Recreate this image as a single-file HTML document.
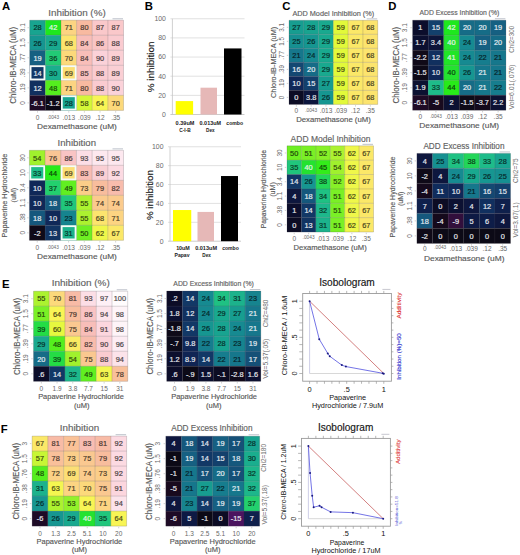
<!DOCTYPE html>
<html><head><meta charset="utf-8"><style>
html,body{margin:0;padding:0;background:#fff;width:520px;height:555px;overflow:hidden}
svg{display:block}
</style></head><body>
<svg width="520" height="555" viewBox="0 0 520 555" font-family='"Liberation Sans", sans-serif'>
<rect width="520" height="555" fill="#fff"/>
<text x="2.00" y="10.20" font-size="11.3" fill="#000" text-anchor="start" font-weight="bold">A</text>
<text x="144.70" y="10.00" font-size="11.3" fill="#000" text-anchor="start" font-weight="bold">B</text>
<text x="282.20" y="10.10" font-size="11.3" fill="#000" text-anchor="start" font-weight="bold">C</text>
<text x="388.30" y="9.80" font-size="11.3" fill="#000" text-anchor="start" font-weight="bold">D</text>
<text x="2.10" y="287.70" font-size="11.3" fill="#000" text-anchor="start" font-weight="bold">E</text>
<text x="0.80" y="433.40" font-size="11.3" fill="#000" text-anchor="start" font-weight="bold">F</text>
<rect x="29.70" y="20.20" width="15.68" height="15.08" fill="#18a490"/>
<rect x="45.33" y="20.20" width="15.68" height="15.08" fill="#1ee81e"/>
<rect x="60.97" y="20.20" width="15.68" height="15.08" fill="#fcd482"/>
<rect x="76.60" y="20.20" width="15.68" height="15.08" fill="#f8baa0"/>
<rect x="92.23" y="20.20" width="15.68" height="15.08" fill="#fac8ca"/>
<rect x="107.87" y="20.20" width="15.68" height="15.08" fill="#fac8ca"/>
<rect x="29.70" y="35.23" width="15.68" height="15.08" fill="#169691"/>
<rect x="45.33" y="35.23" width="15.68" height="15.08" fill="#19a98f"/>
<rect x="60.97" y="35.23" width="15.68" height="15.08" fill="#fce46e"/>
<rect x="76.60" y="35.23" width="15.68" height="15.08" fill="#f8beb9"/>
<rect x="92.23" y="35.23" width="15.68" height="15.08" fill="#f9c4c4"/>
<rect x="107.87" y="35.23" width="15.68" height="15.08" fill="#facbd0"/>
<rect x="29.70" y="50.27" width="15.68" height="15.08" fill="#166082"/>
<rect x="45.33" y="50.27" width="15.68" height="15.08" fill="#22cb75"/>
<rect x="60.97" y="50.27" width="15.68" height="15.08" fill="#fcd97b"/>
<rect x="76.60" y="50.27" width="15.68" height="15.08" fill="#f8beb9"/>
<rect x="92.23" y="50.27" width="15.68" height="15.08" fill="#fbd2d9"/>
<rect x="107.87" y="50.27" width="15.68" height="15.08" fill="#facfd4"/>
<rect x="29.70" y="65.30" width="15.68" height="15.08" fill="#123866"/>
<rect x="45.33" y="65.30" width="15.68" height="15.08" fill="#1aae8e"/>
<rect x="60.97" y="65.30" width="15.68" height="15.08" fill="#fcdf75"/>
<rect x="76.60" y="65.30" width="15.68" height="15.08" fill="#f8c1bf"/>
<rect x="92.23" y="65.30" width="15.68" height="15.08" fill="#facbd0"/>
<rect x="107.87" y="65.30" width="15.68" height="15.08" fill="#facfd4"/>
<rect x="29.70" y="80.33" width="15.68" height="15.08" fill="#11305f"/>
<rect x="45.33" y="80.33" width="15.68" height="15.08" fill="#55ee1e"/>
<rect x="60.97" y="80.33" width="15.68" height="15.08" fill="#fcd482"/>
<rect x="76.60" y="80.33" width="15.68" height="15.08" fill="#f8baa0"/>
<rect x="92.23" y="80.33" width="15.68" height="15.08" fill="#facbd0"/>
<rect x="107.87" y="80.33" width="15.68" height="15.08" fill="#fbd2d9"/>
<rect x="29.70" y="95.37" width="15.68" height="15.08" fill="#1f0b26"/>
<rect x="45.33" y="95.37" width="15.68" height="15.08" fill="#0d0a16"/>
<rect x="60.97" y="95.37" width="15.68" height="15.08" fill="#18a490"/>
<rect x="76.60" y="95.37" width="15.68" height="15.08" fill="#d4f738"/>
<rect x="92.23" y="95.37" width="15.68" height="15.08" fill="#f8f555"/>
<rect x="107.87" y="95.37" width="15.68" height="15.08" fill="#fcd97b"/>
<line x1="29.70" y1="20.20" x2="29.70" y2="110.40" stroke="rgba(60,55,65,0.24)" stroke-width="0.8"/>
<line x1="29.70" y1="20.20" x2="123.50" y2="20.20" stroke="rgba(60,55,65,0.24)" stroke-width="0.8"/>
<line x1="45.33" y1="20.20" x2="45.33" y2="110.40" stroke="rgba(60,55,65,0.24)" stroke-width="0.8"/>
<line x1="29.70" y1="35.23" x2="123.50" y2="35.23" stroke="rgba(60,55,65,0.24)" stroke-width="0.8"/>
<line x1="60.97" y1="20.20" x2="60.97" y2="110.40" stroke="rgba(60,55,65,0.24)" stroke-width="0.8"/>
<line x1="29.70" y1="50.27" x2="123.50" y2="50.27" stroke="rgba(60,55,65,0.24)" stroke-width="0.8"/>
<line x1="76.60" y1="20.20" x2="76.60" y2="110.40" stroke="rgba(60,55,65,0.24)" stroke-width="0.8"/>
<line x1="29.70" y1="65.30" x2="123.50" y2="65.30" stroke="rgba(60,55,65,0.24)" stroke-width="0.8"/>
<line x1="92.23" y1="20.20" x2="92.23" y2="110.40" stroke="rgba(60,55,65,0.24)" stroke-width="0.8"/>
<line x1="29.70" y1="80.33" x2="123.50" y2="80.33" stroke="rgba(60,55,65,0.24)" stroke-width="0.8"/>
<line x1="107.87" y1="20.20" x2="107.87" y2="110.40" stroke="rgba(60,55,65,0.24)" stroke-width="0.8"/>
<line x1="29.70" y1="95.37" x2="123.50" y2="95.37" stroke="rgba(60,55,65,0.24)" stroke-width="0.8"/>
<line x1="123.50" y1="20.20" x2="123.50" y2="110.40" stroke="rgba(60,55,65,0.24)" stroke-width="0.8"/>
<line x1="29.70" y1="110.40" x2="123.50" y2="110.40" stroke="rgba(60,55,65,0.24)" stroke-width="0.8"/>
<rect x="30.60" y="66.20" width="13.83" height="13.23" fill="none" stroke="#f6fbf8" stroke-width="1.8"/>
<rect x="61.87" y="66.20" width="13.83" height="13.23" fill="none" stroke="#f6fbf8" stroke-width="1.8"/>
<rect x="61.87" y="96.27" width="13.83" height="13.23" fill="none" stroke="#f6fbf8" stroke-width="1.8"/>
<text x="37.52" y="30.49" font-size="7.4" fill="#000" stroke="#000" stroke-width="0.2" opacity="0.72" text-anchor="middle">28</text>
<text x="53.15" y="30.49" font-size="7.4" fill="#f4f6fa" stroke="#f4f6fa" stroke-width="0.2" opacity="0.92" text-anchor="middle">42</text>
<text x="68.78" y="30.49" font-size="7.4" fill="#000" stroke="#000" stroke-width="0.2" opacity="0.72" text-anchor="middle">71</text>
<text x="84.42" y="30.49" font-size="7.4" fill="#000" stroke="#000" stroke-width="0.2" opacity="0.72" text-anchor="middle">80</text>
<text x="100.05" y="30.49" font-size="7.4" fill="#000" stroke="#000" stroke-width="0.2" opacity="0.72" text-anchor="middle">87</text>
<text x="115.68" y="30.49" font-size="7.4" fill="#000" stroke="#000" stroke-width="0.2" opacity="0.72" text-anchor="middle">87</text>
<text x="37.52" y="45.52" font-size="7.4" fill="#000" stroke="#000" stroke-width="0.2" opacity="0.72" text-anchor="middle">26</text>
<text x="53.15" y="45.52" font-size="7.4" fill="#000" stroke="#000" stroke-width="0.2" opacity="0.72" text-anchor="middle">29</text>
<text x="68.78" y="45.52" font-size="7.4" fill="#000" stroke="#000" stroke-width="0.2" opacity="0.72" text-anchor="middle">68</text>
<text x="84.42" y="45.52" font-size="7.4" fill="#000" stroke="#000" stroke-width="0.2" opacity="0.72" text-anchor="middle">84</text>
<text x="100.05" y="45.52" font-size="7.4" fill="#000" stroke="#000" stroke-width="0.2" opacity="0.72" text-anchor="middle">86</text>
<text x="115.68" y="45.52" font-size="7.4" fill="#000" stroke="#000" stroke-width="0.2" opacity="0.72" text-anchor="middle">88</text>
<text x="37.52" y="60.56" font-size="7.4" fill="#f4f6fa" stroke="#f4f6fa" stroke-width="0.2" opacity="0.92" text-anchor="middle">19</text>
<text x="53.15" y="60.56" font-size="7.4" fill="#000" stroke="#000" stroke-width="0.2" opacity="0.72" text-anchor="middle">36</text>
<text x="68.78" y="60.56" font-size="7.4" fill="#000" stroke="#000" stroke-width="0.2" opacity="0.72" text-anchor="middle">70</text>
<text x="84.42" y="60.56" font-size="7.4" fill="#000" stroke="#000" stroke-width="0.2" opacity="0.72" text-anchor="middle">84</text>
<text x="100.05" y="60.56" font-size="7.4" fill="#000" stroke="#000" stroke-width="0.2" opacity="0.72" text-anchor="middle">90</text>
<text x="115.68" y="60.56" font-size="7.4" fill="#000" stroke="#000" stroke-width="0.2" opacity="0.72" text-anchor="middle">89</text>
<text x="37.52" y="75.59" font-size="7.4" fill="#f4f6fa" stroke="#f4f6fa" stroke-width="0.2" opacity="0.92" text-anchor="middle">14</text>
<text x="53.15" y="75.59" font-size="7.4" fill="#000" stroke="#000" stroke-width="0.2" opacity="0.72" text-anchor="middle">30</text>
<text x="68.78" y="75.59" font-size="7.4" fill="#000" stroke="#000" stroke-width="0.2" opacity="0.72" text-anchor="middle">69</text>
<text x="84.42" y="75.59" font-size="7.4" fill="#000" stroke="#000" stroke-width="0.2" opacity="0.72" text-anchor="middle">85</text>
<text x="100.05" y="75.59" font-size="7.4" fill="#000" stroke="#000" stroke-width="0.2" opacity="0.72" text-anchor="middle">88</text>
<text x="115.68" y="75.59" font-size="7.4" fill="#000" stroke="#000" stroke-width="0.2" opacity="0.72" text-anchor="middle">89</text>
<text x="37.52" y="90.63" font-size="7.4" fill="#f4f6fa" stroke="#f4f6fa" stroke-width="0.2" opacity="0.92" text-anchor="middle">12</text>
<text x="53.15" y="90.63" font-size="7.4" fill="#000" stroke="#000" stroke-width="0.2" opacity="0.72" text-anchor="middle">48</text>
<text x="68.78" y="90.63" font-size="7.4" fill="#000" stroke="#000" stroke-width="0.2" opacity="0.72" text-anchor="middle">71</text>
<text x="84.42" y="90.63" font-size="7.4" fill="#000" stroke="#000" stroke-width="0.2" opacity="0.72" text-anchor="middle">80</text>
<text x="100.05" y="90.63" font-size="7.4" fill="#000" stroke="#000" stroke-width="0.2" opacity="0.72" text-anchor="middle">88</text>
<text x="115.68" y="90.63" font-size="7.4" fill="#000" stroke="#000" stroke-width="0.2" opacity="0.72" text-anchor="middle">90</text>
<text x="37.52" y="105.66" font-size="7.4" fill="#f4f6fa" stroke="#f4f6fa" stroke-width="0.2" opacity="0.92" text-anchor="middle">-6.1</text>
<text x="53.15" y="105.66" font-size="7.4" fill="#f4f6fa" stroke="#f4f6fa" stroke-width="0.2" opacity="0.92" text-anchor="middle">-1.2</text>
<text x="68.78" y="105.66" font-size="7.4" fill="#000" stroke="#000" stroke-width="0.2" opacity="0.72" text-anchor="middle">28</text>
<text x="84.42" y="105.66" font-size="7.4" fill="#000" stroke="#000" stroke-width="0.2" opacity="0.72" text-anchor="middle">58</text>
<text x="100.05" y="105.66" font-size="7.4" fill="#000" stroke="#000" stroke-width="0.2" opacity="0.72" text-anchor="middle">64</text>
<text x="115.68" y="105.66" font-size="7.4" fill="#000" stroke="#000" stroke-width="0.2" opacity="0.72" text-anchor="middle">70</text>
<rect x="112.50" y="18.20" width="10.5" height="1.1" fill="#c4c8d0"/>
<text x="76.95" y="15.80" font-size="9.72" fill="#626262" text-anchor="middle" font-weight="normal" textLength="57.50" lengthAdjust="spacingAndGlyphs" stroke="#626262" stroke-width="0.15">Inhibition (%)</text>
<text x="16.20" y="65.30" font-size="8.48" fill="#585858" text-anchor="middle" font-weight="normal" transform="rotate(-90 16.20 65.30)" textLength="77.00" lengthAdjust="spacingAndGlyphs" stroke="#585858" stroke-width="0.15">Chloro-IB-MECA (uM)</text>
<text x="24.70" y="27.72" font-size="6.5" fill="#686868" text-anchor="middle" font-weight="normal" transform="rotate(-90 24.70 27.72)">3.1</text>
<line x1="27.50" y1="27.72" x2="28.90" y2="27.72" stroke="#b0b0b0" stroke-width="0.6"/>
<text x="24.70" y="42.75" font-size="6.5" fill="#686868" text-anchor="middle" font-weight="normal" transform="rotate(-90 24.70 42.75)">1.5</text>
<line x1="27.50" y1="42.75" x2="28.90" y2="42.75" stroke="#b0b0b0" stroke-width="0.6"/>
<text x="24.70" y="57.78" font-size="6.5" fill="#686868" text-anchor="middle" font-weight="normal" transform="rotate(-90 24.70 57.78)">.77</text>
<line x1="27.50" y1="57.78" x2="28.90" y2="57.78" stroke="#b0b0b0" stroke-width="0.6"/>
<text x="24.70" y="72.82" font-size="6.5" fill="#686868" text-anchor="middle" font-weight="normal" transform="rotate(-90 24.70 72.82)">.39</text>
<line x1="27.50" y1="72.82" x2="28.90" y2="72.82" stroke="#b0b0b0" stroke-width="0.6"/>
<text x="24.70" y="87.85" font-size="6.5" fill="#686868" text-anchor="middle" font-weight="normal" transform="rotate(-90 24.70 87.85)">.19</text>
<line x1="27.50" y1="87.85" x2="28.90" y2="87.85" stroke="#b0b0b0" stroke-width="0.6"/>
<text x="24.70" y="102.88" font-size="6.5" fill="#686868" text-anchor="middle" font-weight="normal" transform="rotate(-90 24.70 102.88)">0</text>
<line x1="27.50" y1="102.88" x2="28.90" y2="102.88" stroke="#b0b0b0" stroke-width="0.6"/>
<text x="37.52" y="119.70" font-size="6.5" fill="#686868" text-anchor="middle" font-weight="normal">0</text>
<line x1="37.52" y1="111.20" x2="37.52" y2="112.60" stroke="#b0b0b0" stroke-width="0.6"/>
<text x="53.15" y="118.50" font-size="4.81" fill="#686868" text-anchor="middle" font-weight="normal">.0043</text>
<line x1="53.15" y1="111.20" x2="53.15" y2="112.60" stroke="#b0b0b0" stroke-width="0.6"/>
<text x="68.78" y="119.70" font-size="6.5" fill="#686868" text-anchor="middle" font-weight="normal">.013</text>
<line x1="68.78" y1="111.20" x2="68.78" y2="112.60" stroke="#b0b0b0" stroke-width="0.6"/>
<text x="84.42" y="119.70" font-size="6.5" fill="#686868" text-anchor="middle" font-weight="normal">.039</text>
<line x1="84.42" y1="111.20" x2="84.42" y2="112.60" stroke="#b0b0b0" stroke-width="0.6"/>
<text x="100.05" y="119.70" font-size="6.5" fill="#686868" text-anchor="middle" font-weight="normal">.12</text>
<line x1="100.05" y1="111.20" x2="100.05" y2="112.60" stroke="#b0b0b0" stroke-width="0.6"/>
<text x="115.68" y="119.70" font-size="6.5" fill="#686868" text-anchor="middle" font-weight="normal">.35</text>
<line x1="115.68" y1="111.20" x2="115.68" y2="112.60" stroke="#b0b0b0" stroke-width="0.6"/>
<text x="77.00" y="128.80" font-size="7.844000000000001" fill="#585858" text-anchor="middle" font-weight="normal" textLength="79.80" lengthAdjust="spacingAndGlyphs" stroke="#585858" stroke-width="0.15">Dexamethasone (uM)</text>
<rect x="29.40" y="150.30" width="15.73" height="15.05" fill="#a0f12d"/>
<rect x="45.08" y="150.30" width="15.73" height="15.05" fill="#fac594"/>
<rect x="60.77" y="150.30" width="15.73" height="15.05" fill="#f9c4c4"/>
<rect x="76.45" y="150.30" width="15.73" height="15.05" fill="#fcdee6"/>
<rect x="92.13" y="150.30" width="15.73" height="15.05" fill="#fde8ef"/>
<rect x="107.82" y="150.30" width="15.73" height="15.05" fill="#fde8ef"/>
<rect x="29.40" y="165.30" width="15.73" height="15.05" fill="#1ebc8a"/>
<rect x="45.08" y="165.30" width="15.73" height="15.05" fill="#28eb19"/>
<rect x="60.77" y="165.30" width="15.73" height="15.05" fill="#fcdf75"/>
<rect x="76.45" y="165.30" width="15.73" height="15.05" fill="#f8bdb3"/>
<rect x="92.13" y="165.30" width="15.73" height="15.05" fill="#facfd4"/>
<rect x="107.82" y="165.30" width="15.73" height="15.05" fill="#fcdae2"/>
<rect x="29.40" y="180.30" width="15.73" height="15.05" fill="#102858"/>
<rect x="45.08" y="180.30" width="15.73" height="15.05" fill="#23d06e"/>
<rect x="60.77" y="180.30" width="15.73" height="15.05" fill="#61ef21"/>
<rect x="76.45" y="180.30" width="15.73" height="15.05" fill="#fbce89"/>
<rect x="92.13" y="180.30" width="15.73" height="15.05" fill="#f8bd9d"/>
<rect x="107.82" y="180.30" width="15.73" height="15.05" fill="#f8bcac"/>
<rect x="29.40" y="195.30" width="15.73" height="15.05" fill="#102858"/>
<rect x="45.08" y="195.30" width="15.73" height="15.05" fill="#15587d"/>
<rect x="60.77" y="195.30" width="15.73" height="15.05" fill="#20c67c"/>
<rect x="76.45" y="195.30" width="15.73" height="15.05" fill="#acf230"/>
<rect x="92.13" y="195.30" width="15.73" height="15.05" fill="#fbcb8d"/>
<rect x="107.82" y="195.30" width="15.73" height="15.05" fill="#fbcb8d"/>
<rect x="29.40" y="210.30" width="15.73" height="15.05" fill="#15587d"/>
<rect x="45.08" y="210.30" width="15.73" height="15.05" fill="#102858"/>
<rect x="60.77" y="210.30" width="15.73" height="15.05" fill="#16848f"/>
<rect x="76.45" y="210.30" width="15.73" height="15.05" fill="#acf230"/>
<rect x="92.13" y="210.30" width="15.73" height="15.05" fill="#fce46e"/>
<rect x="107.82" y="210.30" width="15.73" height="15.05" fill="#fcd482"/>
<rect x="29.40" y="225.30" width="15.73" height="15.05" fill="#0f0a18"/>
<rect x="45.08" y="225.30" width="15.73" height="15.05" fill="#123462"/>
<rect x="60.77" y="225.30" width="15.73" height="15.05" fill="#1cb28c"/>
<rect x="76.45" y="225.30" width="15.73" height="15.05" fill="#6eef23"/>
<rect x="92.13" y="225.30" width="15.73" height="15.05" fill="#eff74a"/>
<rect x="107.82" y="225.30" width="15.73" height="15.05" fill="#fbe868"/>
<line x1="29.40" y1="150.30" x2="29.40" y2="240.30" stroke="rgba(60,55,65,0.24)" stroke-width="0.8"/>
<line x1="29.40" y1="150.30" x2="123.50" y2="150.30" stroke="rgba(60,55,65,0.24)" stroke-width="0.8"/>
<line x1="45.08" y1="150.30" x2="45.08" y2="240.30" stroke="rgba(60,55,65,0.24)" stroke-width="0.8"/>
<line x1="29.40" y1="165.30" x2="123.50" y2="165.30" stroke="rgba(60,55,65,0.24)" stroke-width="0.8"/>
<line x1="60.77" y1="150.30" x2="60.77" y2="240.30" stroke="rgba(60,55,65,0.24)" stroke-width="0.8"/>
<line x1="29.40" y1="180.30" x2="123.50" y2="180.30" stroke="rgba(60,55,65,0.24)" stroke-width="0.8"/>
<line x1="76.45" y1="150.30" x2="76.45" y2="240.30" stroke="rgba(60,55,65,0.24)" stroke-width="0.8"/>
<line x1="29.40" y1="195.30" x2="123.50" y2="195.30" stroke="rgba(60,55,65,0.24)" stroke-width="0.8"/>
<line x1="92.13" y1="150.30" x2="92.13" y2="240.30" stroke="rgba(60,55,65,0.24)" stroke-width="0.8"/>
<line x1="29.40" y1="210.30" x2="123.50" y2="210.30" stroke="rgba(60,55,65,0.24)" stroke-width="0.8"/>
<line x1="107.82" y1="150.30" x2="107.82" y2="240.30" stroke="rgba(60,55,65,0.24)" stroke-width="0.8"/>
<line x1="29.40" y1="225.30" x2="123.50" y2="225.30" stroke="rgba(60,55,65,0.24)" stroke-width="0.8"/>
<line x1="123.50" y1="150.30" x2="123.50" y2="240.30" stroke="rgba(60,55,65,0.24)" stroke-width="0.8"/>
<line x1="29.40" y1="240.30" x2="123.50" y2="240.30" stroke="rgba(60,55,65,0.24)" stroke-width="0.8"/>
<rect x="30.30" y="166.20" width="13.88" height="13.20" fill="none" stroke="#f6fbf8" stroke-width="1.8"/>
<rect x="61.67" y="166.20" width="13.88" height="13.20" fill="none" stroke="#f6fbf8" stroke-width="1.8"/>
<rect x="61.67" y="226.20" width="13.88" height="13.20" fill="none" stroke="#f6fbf8" stroke-width="1.8"/>
<text x="37.24" y="160.58" font-size="7.4" fill="#000" stroke="#000" stroke-width="0.2" opacity="0.72" text-anchor="middle">54</text>
<text x="52.92" y="160.58" font-size="7.4" fill="#000" stroke="#000" stroke-width="0.2" opacity="0.72" text-anchor="middle">76</text>
<text x="68.61" y="160.58" font-size="7.4" fill="#000" stroke="#000" stroke-width="0.2" opacity="0.72" text-anchor="middle">86</text>
<text x="84.29" y="160.58" font-size="7.4" fill="#000" stroke="#000" stroke-width="0.2" opacity="0.72" text-anchor="middle">93</text>
<text x="99.97" y="160.58" font-size="7.4" fill="#000" stroke="#000" stroke-width="0.2" opacity="0.72" text-anchor="middle">95</text>
<text x="115.66" y="160.58" font-size="7.4" fill="#000" stroke="#000" stroke-width="0.2" opacity="0.72" text-anchor="middle">95</text>
<text x="37.24" y="175.58" font-size="7.4" fill="#000" stroke="#000" stroke-width="0.2" opacity="0.72" text-anchor="middle">33</text>
<text x="52.92" y="175.58" font-size="7.4" fill="#000" stroke="#000" stroke-width="0.2" opacity="0.72" text-anchor="middle">44</text>
<text x="68.61" y="175.58" font-size="7.4" fill="#000" stroke="#000" stroke-width="0.2" opacity="0.72" text-anchor="middle">69</text>
<text x="84.29" y="175.58" font-size="7.4" fill="#000" stroke="#000" stroke-width="0.2" opacity="0.72" text-anchor="middle">83</text>
<text x="99.97" y="175.58" font-size="7.4" fill="#000" stroke="#000" stroke-width="0.2" opacity="0.72" text-anchor="middle">89</text>
<text x="115.66" y="175.58" font-size="7.4" fill="#000" stroke="#000" stroke-width="0.2" opacity="0.72" text-anchor="middle">92</text>
<text x="37.24" y="190.58" font-size="7.4" fill="#f4f6fa" stroke="#f4f6fa" stroke-width="0.2" opacity="0.92" text-anchor="middle">10</text>
<text x="52.92" y="190.58" font-size="7.4" fill="#000" stroke="#000" stroke-width="0.2" opacity="0.72" text-anchor="middle">37</text>
<text x="68.61" y="190.58" font-size="7.4" fill="#000" stroke="#000" stroke-width="0.2" opacity="0.72" text-anchor="middle">49</text>
<text x="84.29" y="190.58" font-size="7.4" fill="#000" stroke="#000" stroke-width="0.2" opacity="0.72" text-anchor="middle">73</text>
<text x="99.97" y="190.58" font-size="7.4" fill="#000" stroke="#000" stroke-width="0.2" opacity="0.72" text-anchor="middle">79</text>
<text x="115.66" y="190.58" font-size="7.4" fill="#000" stroke="#000" stroke-width="0.2" opacity="0.72" text-anchor="middle">82</text>
<text x="37.24" y="205.58" font-size="7.4" fill="#f4f6fa" stroke="#f4f6fa" stroke-width="0.2" opacity="0.92" text-anchor="middle">10</text>
<text x="52.92" y="205.58" font-size="7.4" fill="#f4f6fa" stroke="#f4f6fa" stroke-width="0.2" opacity="0.92" text-anchor="middle">18</text>
<text x="68.61" y="205.58" font-size="7.4" fill="#000" stroke="#000" stroke-width="0.2" opacity="0.72" text-anchor="middle">35</text>
<text x="84.29" y="205.58" font-size="7.4" fill="#000" stroke="#000" stroke-width="0.2" opacity="0.72" text-anchor="middle">55</text>
<text x="99.97" y="205.58" font-size="7.4" fill="#000" stroke="#000" stroke-width="0.2" opacity="0.72" text-anchor="middle">74</text>
<text x="115.66" y="205.58" font-size="7.4" fill="#000" stroke="#000" stroke-width="0.2" opacity="0.72" text-anchor="middle">74</text>
<text x="37.24" y="220.58" font-size="7.4" fill="#f4f6fa" stroke="#f4f6fa" stroke-width="0.2" opacity="0.92" text-anchor="middle">18</text>
<text x="52.92" y="220.58" font-size="7.4" fill="#f4f6fa" stroke="#f4f6fa" stroke-width="0.2" opacity="0.92" text-anchor="middle">10</text>
<text x="68.61" y="220.58" font-size="7.4" fill="#000" stroke="#000" stroke-width="0.2" opacity="0.72" text-anchor="middle">23</text>
<text x="84.29" y="220.58" font-size="7.4" fill="#000" stroke="#000" stroke-width="0.2" opacity="0.72" text-anchor="middle">55</text>
<text x="99.97" y="220.58" font-size="7.4" fill="#000" stroke="#000" stroke-width="0.2" opacity="0.72" text-anchor="middle">68</text>
<text x="115.66" y="220.58" font-size="7.4" fill="#000" stroke="#000" stroke-width="0.2" opacity="0.72" text-anchor="middle">71</text>
<text x="37.24" y="235.58" font-size="7.4" fill="#f4f6fa" stroke="#f4f6fa" stroke-width="0.2" opacity="0.92" text-anchor="middle">-2</text>
<text x="52.92" y="235.58" font-size="7.4" fill="#f4f6fa" stroke="#f4f6fa" stroke-width="0.2" opacity="0.92" text-anchor="middle">13</text>
<text x="68.61" y="235.58" font-size="7.4" fill="#000" stroke="#000" stroke-width="0.2" opacity="0.72" text-anchor="middle">31</text>
<text x="84.29" y="235.58" font-size="7.4" fill="#000" stroke="#000" stroke-width="0.2" opacity="0.72" text-anchor="middle">50</text>
<text x="99.97" y="235.58" font-size="7.4" fill="#000" stroke="#000" stroke-width="0.2" opacity="0.72" text-anchor="middle">62</text>
<text x="115.66" y="235.58" font-size="7.4" fill="#000" stroke="#000" stroke-width="0.2" opacity="0.72" text-anchor="middle">67</text>
<rect x="112.50" y="148.30" width="10.5" height="1.1" fill="#c4c8d0"/>
<text x="76.80" y="145.60" font-size="9.288" fill="#626262" text-anchor="middle" font-weight="normal" textLength="38.40" lengthAdjust="spacingAndGlyphs" stroke="#626262" stroke-width="0.15">Inhibition</text>
<text x="6.80" y="195.60" font-size="7.844000000000001" fill="#585858" text-anchor="middle" font-weight="normal" transform="rotate(-90 6.80 195.60)" textLength="83.80" lengthAdjust="spacingAndGlyphs" stroke="#585858" stroke-width="0.15">Papaverine Hydrochloride</text>
<text x="16.00" y="195.10" font-size="7.844000000000001" fill="#585858" text-anchor="middle" font-weight="normal" transform="rotate(-90 16.00 195.10)" textLength="14.60" lengthAdjust="spacingAndGlyphs" stroke="#585858" stroke-width="0.15">(uM)</text>
<text x="24.60" y="157.80" font-size="6.5" fill="#686868" text-anchor="middle" font-weight="normal" transform="rotate(-90 24.60 157.80)">30</text>
<line x1="27.20" y1="157.80" x2="28.60" y2="157.80" stroke="#b0b0b0" stroke-width="0.6"/>
<text x="24.60" y="172.80" font-size="6.5" fill="#686868" text-anchor="middle" font-weight="normal" transform="rotate(-90 24.60 172.80)">10</text>
<line x1="27.20" y1="172.80" x2="28.60" y2="172.80" stroke="#b0b0b0" stroke-width="0.6"/>
<text x="24.60" y="187.80" font-size="6.5" fill="#686868" text-anchor="middle" font-weight="normal" transform="rotate(-90 24.60 187.80)">3.4</text>
<line x1="27.20" y1="187.80" x2="28.60" y2="187.80" stroke="#b0b0b0" stroke-width="0.6"/>
<text x="24.60" y="202.80" font-size="6.5" fill="#686868" text-anchor="middle" font-weight="normal" transform="rotate(-90 24.60 202.80)">1.1</text>
<line x1="27.20" y1="202.80" x2="28.60" y2="202.80" stroke="#b0b0b0" stroke-width="0.6"/>
<text x="24.60" y="217.80" font-size="6.5" fill="#686868" text-anchor="middle" font-weight="normal" transform="rotate(-90 24.60 217.80)">.38</text>
<line x1="27.20" y1="217.80" x2="28.60" y2="217.80" stroke="#b0b0b0" stroke-width="0.6"/>
<text x="24.60" y="232.80" font-size="6.5" fill="#686868" text-anchor="middle" font-weight="normal" transform="rotate(-90 24.60 232.80)">0</text>
<line x1="27.20" y1="232.80" x2="28.60" y2="232.80" stroke="#b0b0b0" stroke-width="0.6"/>
<text x="37.24" y="249.70" font-size="6.5" fill="#686868" text-anchor="middle" font-weight="normal">0</text>
<line x1="37.24" y1="241.10" x2="37.24" y2="242.50" stroke="#b0b0b0" stroke-width="0.6"/>
<text x="52.92" y="248.50" font-size="4.81" fill="#686868" text-anchor="middle" font-weight="normal">.0043</text>
<line x1="52.92" y1="241.10" x2="52.92" y2="242.50" stroke="#b0b0b0" stroke-width="0.6"/>
<text x="68.61" y="249.70" font-size="6.5" fill="#686868" text-anchor="middle" font-weight="normal">.013</text>
<line x1="68.61" y1="241.10" x2="68.61" y2="242.50" stroke="#b0b0b0" stroke-width="0.6"/>
<text x="84.29" y="249.70" font-size="6.5" fill="#686868" text-anchor="middle" font-weight="normal">.039</text>
<line x1="84.29" y1="241.10" x2="84.29" y2="242.50" stroke="#b0b0b0" stroke-width="0.6"/>
<text x="99.97" y="249.70" font-size="6.5" fill="#686868" text-anchor="middle" font-weight="normal">.12</text>
<line x1="99.97" y1="241.10" x2="99.97" y2="242.50" stroke="#b0b0b0" stroke-width="0.6"/>
<text x="115.66" y="249.70" font-size="6.5" fill="#686868" text-anchor="middle" font-weight="normal">.35</text>
<line x1="115.66" y1="241.10" x2="115.66" y2="242.50" stroke="#b0b0b0" stroke-width="0.6"/>
<text x="77.00" y="258.80" font-size="7.844000000000001" fill="#585858" text-anchor="middle" font-weight="normal" textLength="79.80" lengthAdjust="spacingAndGlyphs" stroke="#585858" stroke-width="0.15">Dexamethasone (uM)</text>
<rect x="289.00" y="20.30" width="14.83" height="14.07" fill="#179d90"/>
<rect x="303.78" y="20.30" width="14.83" height="14.07" fill="#18a490"/>
<rect x="318.57" y="20.30" width="14.83" height="14.07" fill="#19a98f"/>
<rect x="333.35" y="20.30" width="14.83" height="14.07" fill="#e2f93a"/>
<rect x="348.13" y="20.30" width="14.83" height="14.07" fill="#fbe868"/>
<rect x="362.92" y="20.30" width="14.83" height="14.07" fill="#fce46e"/>
<rect x="289.00" y="34.32" width="14.83" height="14.07" fill="#169091"/>
<rect x="303.78" y="34.32" width="14.83" height="14.07" fill="#169691"/>
<rect x="318.57" y="34.32" width="14.83" height="14.07" fill="#19a98f"/>
<rect x="333.35" y="34.32" width="14.83" height="14.07" fill="#e2f93a"/>
<rect x="348.13" y="34.32" width="14.83" height="14.07" fill="#fbe868"/>
<rect x="362.92" y="34.32" width="14.83" height="14.07" fill="#fce46e"/>
<rect x="289.00" y="48.33" width="14.83" height="14.07" fill="#16778c"/>
<rect x="303.78" y="48.33" width="14.83" height="14.07" fill="#168a91"/>
<rect x="318.57" y="48.33" width="14.83" height="14.07" fill="#19a98f"/>
<rect x="333.35" y="48.33" width="14.83" height="14.07" fill="#e2f93a"/>
<rect x="348.13" y="48.33" width="14.83" height="14.07" fill="#fbe868"/>
<rect x="362.92" y="48.33" width="14.83" height="14.07" fill="#fce46e"/>
<rect x="289.00" y="62.35" width="14.83" height="14.07" fill="#144872"/>
<rect x="303.78" y="62.35" width="14.83" height="14.07" fill="#166c87"/>
<rect x="318.57" y="62.35" width="14.83" height="14.07" fill="#19a98f"/>
<rect x="333.35" y="62.35" width="14.83" height="14.07" fill="#e2f93a"/>
<rect x="348.13" y="62.35" width="14.83" height="14.07" fill="#fbe868"/>
<rect x="362.92" y="62.35" width="14.83" height="14.07" fill="#fce46e"/>
<rect x="289.00" y="76.37" width="14.83" height="14.07" fill="#102858"/>
<rect x="303.78" y="76.37" width="14.83" height="14.07" fill="#13406c"/>
<rect x="318.57" y="76.37" width="14.83" height="14.07" fill="#179d90"/>
<rect x="333.35" y="76.37" width="14.83" height="14.07" fill="#e2f93a"/>
<rect x="348.13" y="76.37" width="14.83" height="14.07" fill="#fbe868"/>
<rect x="362.92" y="76.37" width="14.83" height="14.07" fill="#fce46e"/>
<rect x="289.00" y="90.38" width="14.83" height="14.07" fill="#0c0c24"/>
<rect x="303.78" y="90.38" width="14.83" height="14.07" fill="#0d163d"/>
<rect x="318.57" y="90.38" width="14.83" height="14.07" fill="#169691"/>
<rect x="333.35" y="90.38" width="14.83" height="14.07" fill="#e2f93a"/>
<rect x="348.13" y="90.38" width="14.83" height="14.07" fill="#fbe868"/>
<rect x="362.92" y="90.38" width="14.83" height="14.07" fill="#fce46e"/>
<line x1="289.00" y1="20.30" x2="289.00" y2="104.40" stroke="rgba(60,55,65,0.24)" stroke-width="0.8"/>
<line x1="289.00" y1="20.30" x2="377.70" y2="20.30" stroke="rgba(60,55,65,0.24)" stroke-width="0.8"/>
<line x1="303.78" y1="20.30" x2="303.78" y2="104.40" stroke="rgba(60,55,65,0.24)" stroke-width="0.8"/>
<line x1="289.00" y1="34.32" x2="377.70" y2="34.32" stroke="rgba(60,55,65,0.24)" stroke-width="0.8"/>
<line x1="318.57" y1="20.30" x2="318.57" y2="104.40" stroke="rgba(60,55,65,0.24)" stroke-width="0.8"/>
<line x1="289.00" y1="48.33" x2="377.70" y2="48.33" stroke="rgba(60,55,65,0.24)" stroke-width="0.8"/>
<line x1="333.35" y1="20.30" x2="333.35" y2="104.40" stroke="rgba(60,55,65,0.24)" stroke-width="0.8"/>
<line x1="289.00" y1="62.35" x2="377.70" y2="62.35" stroke="rgba(60,55,65,0.24)" stroke-width="0.8"/>
<line x1="348.13" y1="20.30" x2="348.13" y2="104.40" stroke="rgba(60,55,65,0.24)" stroke-width="0.8"/>
<line x1="289.00" y1="76.37" x2="377.70" y2="76.37" stroke="rgba(60,55,65,0.24)" stroke-width="0.8"/>
<line x1="362.92" y1="20.30" x2="362.92" y2="104.40" stroke="rgba(60,55,65,0.24)" stroke-width="0.8"/>
<line x1="289.00" y1="90.38" x2="377.70" y2="90.38" stroke="rgba(60,55,65,0.24)" stroke-width="0.8"/>
<line x1="377.70" y1="20.30" x2="377.70" y2="104.40" stroke="rgba(60,55,65,0.24)" stroke-width="0.8"/>
<line x1="289.00" y1="104.40" x2="377.70" y2="104.40" stroke="rgba(60,55,65,0.24)" stroke-width="0.8"/>
<text x="296.39" y="30.08" font-size="7.4" fill="#000" stroke="#000" stroke-width="0.2" opacity="0.72" text-anchor="middle">27</text>
<text x="311.18" y="30.08" font-size="7.4" fill="#000" stroke="#000" stroke-width="0.2" opacity="0.72" text-anchor="middle">28</text>
<text x="325.96" y="30.08" font-size="7.4" fill="#000" stroke="#000" stroke-width="0.2" opacity="0.72" text-anchor="middle">29</text>
<text x="340.74" y="30.08" font-size="7.4" fill="#000" stroke="#000" stroke-width="0.2" opacity="0.72" text-anchor="middle">59</text>
<text x="355.52" y="30.08" font-size="7.4" fill="#000" stroke="#000" stroke-width="0.2" opacity="0.72" text-anchor="middle">67</text>
<text x="370.31" y="30.08" font-size="7.4" fill="#000" stroke="#000" stroke-width="0.2" opacity="0.72" text-anchor="middle">68</text>
<text x="296.39" y="44.10" font-size="7.4" fill="#000" stroke="#000" stroke-width="0.2" opacity="0.72" text-anchor="middle">25</text>
<text x="311.18" y="44.10" font-size="7.4" fill="#000" stroke="#000" stroke-width="0.2" opacity="0.72" text-anchor="middle">26</text>
<text x="325.96" y="44.10" font-size="7.4" fill="#000" stroke="#000" stroke-width="0.2" opacity="0.72" text-anchor="middle">29</text>
<text x="340.74" y="44.10" font-size="7.4" fill="#000" stroke="#000" stroke-width="0.2" opacity="0.72" text-anchor="middle">59</text>
<text x="355.52" y="44.10" font-size="7.4" fill="#000" stroke="#000" stroke-width="0.2" opacity="0.72" text-anchor="middle">67</text>
<text x="370.31" y="44.10" font-size="7.4" fill="#000" stroke="#000" stroke-width="0.2" opacity="0.72" text-anchor="middle">68</text>
<text x="296.39" y="58.12" font-size="7.4" fill="#000" stroke="#000" stroke-width="0.2" opacity="0.72" text-anchor="middle">21</text>
<text x="311.18" y="58.12" font-size="7.4" fill="#000" stroke="#000" stroke-width="0.2" opacity="0.72" text-anchor="middle">24</text>
<text x="325.96" y="58.12" font-size="7.4" fill="#000" stroke="#000" stroke-width="0.2" opacity="0.72" text-anchor="middle">29</text>
<text x="340.74" y="58.12" font-size="7.4" fill="#000" stroke="#000" stroke-width="0.2" opacity="0.72" text-anchor="middle">59</text>
<text x="355.52" y="58.12" font-size="7.4" fill="#000" stroke="#000" stroke-width="0.2" opacity="0.72" text-anchor="middle">67</text>
<text x="370.31" y="58.12" font-size="7.4" fill="#000" stroke="#000" stroke-width="0.2" opacity="0.72" text-anchor="middle">68</text>
<text x="296.39" y="72.13" font-size="7.4" fill="#f4f6fa" stroke="#f4f6fa" stroke-width="0.2" opacity="0.92" text-anchor="middle">16</text>
<text x="311.18" y="72.13" font-size="7.4" fill="#f4f6fa" stroke="#f4f6fa" stroke-width="0.2" opacity="0.92" text-anchor="middle">20</text>
<text x="325.96" y="72.13" font-size="7.4" fill="#000" stroke="#000" stroke-width="0.2" opacity="0.72" text-anchor="middle">29</text>
<text x="340.74" y="72.13" font-size="7.4" fill="#000" stroke="#000" stroke-width="0.2" opacity="0.72" text-anchor="middle">59</text>
<text x="355.52" y="72.13" font-size="7.4" fill="#000" stroke="#000" stroke-width="0.2" opacity="0.72" text-anchor="middle">67</text>
<text x="370.31" y="72.13" font-size="7.4" fill="#000" stroke="#000" stroke-width="0.2" opacity="0.72" text-anchor="middle">68</text>
<text x="296.39" y="86.15" font-size="7.4" fill="#f4f6fa" stroke="#f4f6fa" stroke-width="0.2" opacity="0.92" text-anchor="middle">10</text>
<text x="311.18" y="86.15" font-size="7.4" fill="#f4f6fa" stroke="#f4f6fa" stroke-width="0.2" opacity="0.92" text-anchor="middle">15</text>
<text x="325.96" y="86.15" font-size="7.4" fill="#000" stroke="#000" stroke-width="0.2" opacity="0.72" text-anchor="middle">27</text>
<text x="340.74" y="86.15" font-size="7.4" fill="#000" stroke="#000" stroke-width="0.2" opacity="0.72" text-anchor="middle">59</text>
<text x="355.52" y="86.15" font-size="7.4" fill="#000" stroke="#000" stroke-width="0.2" opacity="0.72" text-anchor="middle">67</text>
<text x="370.31" y="86.15" font-size="7.4" fill="#000" stroke="#000" stroke-width="0.2" opacity="0.72" text-anchor="middle">68</text>
<text x="296.39" y="100.17" font-size="7.4" fill="#f4f6fa" stroke="#f4f6fa" stroke-width="0.2" opacity="0.92" text-anchor="middle">0</text>
<text x="311.18" y="100.17" font-size="7.4" fill="#f4f6fa" stroke="#f4f6fa" stroke-width="0.2" opacity="0.92" text-anchor="middle">3.8</text>
<text x="325.96" y="100.17" font-size="7.4" fill="#000" stroke="#000" stroke-width="0.2" opacity="0.72" text-anchor="middle">26</text>
<text x="340.74" y="100.17" font-size="7.4" fill="#000" stroke="#000" stroke-width="0.2" opacity="0.72" text-anchor="middle">59</text>
<text x="355.52" y="100.17" font-size="7.4" fill="#000" stroke="#000" stroke-width="0.2" opacity="0.72" text-anchor="middle">67</text>
<text x="370.31" y="100.17" font-size="7.4" fill="#000" stroke="#000" stroke-width="0.2" opacity="0.72" text-anchor="middle">68</text>
<rect x="366.70" y="18.30" width="10.5" height="1.1" fill="#c4c8d0"/>
<text x="333.30" y="15.60" font-size="7.236000000000001" fill="#626262" text-anchor="middle" font-weight="normal" textLength="81.80" lengthAdjust="spacingAndGlyphs" stroke="#626262" stroke-width="0.15">ADD Model Inhibition (%)</text>
<text x="276.00" y="62.35" font-size="7.95" fill="#585858" text-anchor="middle" font-weight="normal" transform="rotate(-90 276.00 62.35)" textLength="71.10" lengthAdjust="spacingAndGlyphs" stroke="#585858" stroke-width="0.15">Chloro-IB-MECA (uM)</text>
<text x="283.90" y="27.31" font-size="6.3" fill="#686868" text-anchor="middle" font-weight="normal" transform="rotate(-90 283.90 27.31)">3.1</text>
<line x1="286.80" y1="27.31" x2="288.20" y2="27.31" stroke="#b0b0b0" stroke-width="0.6"/>
<text x="283.90" y="41.33" font-size="6.3" fill="#686868" text-anchor="middle" font-weight="normal" transform="rotate(-90 283.90 41.33)">1.5</text>
<line x1="286.80" y1="41.33" x2="288.20" y2="41.33" stroke="#b0b0b0" stroke-width="0.6"/>
<text x="283.90" y="55.34" font-size="6.3" fill="#686868" text-anchor="middle" font-weight="normal" transform="rotate(-90 283.90 55.34)">.77</text>
<line x1="286.80" y1="55.34" x2="288.20" y2="55.34" stroke="#b0b0b0" stroke-width="0.6"/>
<text x="283.90" y="69.36" font-size="6.3" fill="#686868" text-anchor="middle" font-weight="normal" transform="rotate(-90 283.90 69.36)">.39</text>
<line x1="286.80" y1="69.36" x2="288.20" y2="69.36" stroke="#b0b0b0" stroke-width="0.6"/>
<text x="283.90" y="83.38" font-size="6.3" fill="#686868" text-anchor="middle" font-weight="normal" transform="rotate(-90 283.90 83.38)">.19</text>
<line x1="286.80" y1="83.38" x2="288.20" y2="83.38" stroke="#b0b0b0" stroke-width="0.6"/>
<text x="283.90" y="97.39" font-size="6.3" fill="#686868" text-anchor="middle" font-weight="normal" transform="rotate(-90 283.90 97.39)">0</text>
<line x1="286.80" y1="97.39" x2="288.20" y2="97.39" stroke="#b0b0b0" stroke-width="0.6"/>
<text x="296.39" y="113.00" font-size="6.5" fill="#686868" text-anchor="middle" font-weight="normal">0</text>
<line x1="296.39" y1="105.20" x2="296.39" y2="106.60" stroke="#b0b0b0" stroke-width="0.6"/>
<text x="311.18" y="111.80" font-size="4.81" fill="#686868" text-anchor="middle" font-weight="normal">.0043</text>
<line x1="311.18" y1="105.20" x2="311.18" y2="106.60" stroke="#b0b0b0" stroke-width="0.6"/>
<text x="325.96" y="113.00" font-size="6.5" fill="#686868" text-anchor="middle" font-weight="normal">.013</text>
<line x1="325.96" y1="105.20" x2="325.96" y2="106.60" stroke="#b0b0b0" stroke-width="0.6"/>
<text x="340.74" y="113.00" font-size="6.5" fill="#686868" text-anchor="middle" font-weight="normal">.039</text>
<line x1="340.74" y1="105.20" x2="340.74" y2="106.60" stroke="#b0b0b0" stroke-width="0.6"/>
<text x="355.52" y="113.00" font-size="6.5" fill="#686868" text-anchor="middle" font-weight="normal">.12</text>
<line x1="355.52" y1="105.20" x2="355.52" y2="106.60" stroke="#b0b0b0" stroke-width="0.6"/>
<text x="370.31" y="113.00" font-size="6.5" fill="#686868" text-anchor="middle" font-weight="normal">.35</text>
<line x1="370.31" y1="105.20" x2="370.31" y2="106.60" stroke="#b0b0b0" stroke-width="0.6"/>
<text x="333.50" y="121.60" font-size="7.42" fill="#585858" text-anchor="middle" font-weight="normal" textLength="74.70" lengthAdjust="spacingAndGlyphs" stroke="#585858" stroke-width="0.15">Dexamethasone (uM)</text>
<rect x="287.00" y="145.80" width="14.47" height="14.42" fill="#6eef23"/>
<rect x="301.42" y="145.80" width="14.47" height="14.42" fill="#7af026"/>
<rect x="315.83" y="145.80" width="14.47" height="14.42" fill="#87f028"/>
<rect x="330.25" y="145.80" width="14.47" height="14.42" fill="#acf230"/>
<rect x="344.67" y="145.80" width="14.47" height="14.42" fill="#eff74a"/>
<rect x="359.08" y="145.80" width="14.47" height="14.42" fill="#fbe868"/>
<rect x="287.00" y="160.17" width="14.47" height="14.42" fill="#20c67c"/>
<rect x="301.42" y="160.17" width="14.47" height="14.42" fill="#24e230"/>
<rect x="315.83" y="160.17" width="14.47" height="14.42" fill="#33ec1a"/>
<rect x="330.25" y="160.17" width="14.47" height="14.42" fill="#a0f12d"/>
<rect x="344.67" y="160.17" width="14.47" height="14.42" fill="#eff74a"/>
<rect x="359.08" y="160.17" width="14.47" height="14.42" fill="#fbe868"/>
<rect x="287.00" y="174.53" width="14.47" height="14.42" fill="#123866"/>
<rect x="301.42" y="174.53" width="14.47" height="14.42" fill="#169691"/>
<rect x="315.83" y="174.53" width="14.47" height="14.42" fill="#23d659"/>
<rect x="330.25" y="174.53" width="14.47" height="14.42" fill="#87f028"/>
<rect x="344.67" y="174.53" width="14.47" height="14.42" fill="#eff74a"/>
<rect x="359.08" y="174.53" width="14.47" height="14.42" fill="#fbe868"/>
<rect x="287.00" y="188.90" width="14.47" height="14.42" fill="#0e173e"/>
<rect x="301.42" y="188.90" width="14.47" height="14.42" fill="#15587d"/>
<rect x="315.83" y="188.90" width="14.47" height="14.42" fill="#1fc183"/>
<rect x="330.25" y="188.90" width="14.47" height="14.42" fill="#7af026"/>
<rect x="344.67" y="188.90" width="14.47" height="14.42" fill="#eff74a"/>
<rect x="359.08" y="188.90" width="14.47" height="14.42" fill="#fbe868"/>
<rect x="287.00" y="203.27" width="14.47" height="14.42" fill="#0c0e2c"/>
<rect x="301.42" y="203.27" width="14.47" height="14.42" fill="#123866"/>
<rect x="315.83" y="203.27" width="14.47" height="14.42" fill="#1db78b"/>
<rect x="330.25" y="203.27" width="14.47" height="14.42" fill="#7af026"/>
<rect x="344.67" y="203.27" width="14.47" height="14.42" fill="#eff74a"/>
<rect x="359.08" y="203.27" width="14.47" height="14.42" fill="#fbe868"/>
<rect x="287.00" y="217.63" width="14.47" height="14.42" fill="#0c0c24"/>
<rect x="301.42" y="217.63" width="14.47" height="14.42" fill="#123462"/>
<rect x="315.83" y="217.63" width="14.47" height="14.42" fill="#1cb28c"/>
<rect x="330.25" y="217.63" width="14.47" height="14.42" fill="#7af026"/>
<rect x="344.67" y="217.63" width="14.47" height="14.42" fill="#eff74a"/>
<rect x="359.08" y="217.63" width="14.47" height="14.42" fill="#fbe868"/>
<line x1="287.00" y1="145.80" x2="287.00" y2="232.00" stroke="rgba(60,55,65,0.24)" stroke-width="0.8"/>
<line x1="287.00" y1="145.80" x2="373.50" y2="145.80" stroke="rgba(60,55,65,0.24)" stroke-width="0.8"/>
<line x1="301.42" y1="145.80" x2="301.42" y2="232.00" stroke="rgba(60,55,65,0.24)" stroke-width="0.8"/>
<line x1="287.00" y1="160.17" x2="373.50" y2="160.17" stroke="rgba(60,55,65,0.24)" stroke-width="0.8"/>
<line x1="315.83" y1="145.80" x2="315.83" y2="232.00" stroke="rgba(60,55,65,0.24)" stroke-width="0.8"/>
<line x1="287.00" y1="174.53" x2="373.50" y2="174.53" stroke="rgba(60,55,65,0.24)" stroke-width="0.8"/>
<line x1="330.25" y1="145.80" x2="330.25" y2="232.00" stroke="rgba(60,55,65,0.24)" stroke-width="0.8"/>
<line x1="287.00" y1="188.90" x2="373.50" y2="188.90" stroke="rgba(60,55,65,0.24)" stroke-width="0.8"/>
<line x1="344.67" y1="145.80" x2="344.67" y2="232.00" stroke="rgba(60,55,65,0.24)" stroke-width="0.8"/>
<line x1="287.00" y1="203.27" x2="373.50" y2="203.27" stroke="rgba(60,55,65,0.24)" stroke-width="0.8"/>
<line x1="359.08" y1="145.80" x2="359.08" y2="232.00" stroke="rgba(60,55,65,0.24)" stroke-width="0.8"/>
<line x1="287.00" y1="217.63" x2="373.50" y2="217.63" stroke="rgba(60,55,65,0.24)" stroke-width="0.8"/>
<line x1="373.50" y1="145.80" x2="373.50" y2="232.00" stroke="rgba(60,55,65,0.24)" stroke-width="0.8"/>
<line x1="287.00" y1="232.00" x2="373.50" y2="232.00" stroke="rgba(60,55,65,0.24)" stroke-width="0.8"/>
<text x="294.21" y="155.76" font-size="7.4" fill="#000" stroke="#000" stroke-width="0.2" opacity="0.72" text-anchor="middle">50</text>
<text x="308.62" y="155.76" font-size="7.4" fill="#000" stroke="#000" stroke-width="0.2" opacity="0.72" text-anchor="middle">51</text>
<text x="323.04" y="155.76" font-size="7.4" fill="#000" stroke="#000" stroke-width="0.2" opacity="0.72" text-anchor="middle">52</text>
<text x="337.46" y="155.76" font-size="7.4" fill="#000" stroke="#000" stroke-width="0.2" opacity="0.72" text-anchor="middle">55</text>
<text x="351.88" y="155.76" font-size="7.4" fill="#000" stroke="#000" stroke-width="0.2" opacity="0.72" text-anchor="middle">62</text>
<text x="366.29" y="155.76" font-size="7.4" fill="#000" stroke="#000" stroke-width="0.2" opacity="0.72" text-anchor="middle">67</text>
<text x="294.21" y="170.13" font-size="7.4" fill="#000" stroke="#000" stroke-width="0.2" opacity="0.72" text-anchor="middle">35</text>
<text x="308.62" y="170.13" font-size="7.4" fill="#f4f6fa" stroke="#f4f6fa" stroke-width="0.2" opacity="0.92" text-anchor="middle">40</text>
<text x="323.04" y="170.13" font-size="7.4" fill="#000" stroke="#000" stroke-width="0.2" opacity="0.72" text-anchor="middle">45</text>
<text x="337.46" y="170.13" font-size="7.4" fill="#000" stroke="#000" stroke-width="0.2" opacity="0.72" text-anchor="middle">54</text>
<text x="351.88" y="170.13" font-size="7.4" fill="#000" stroke="#000" stroke-width="0.2" opacity="0.72" text-anchor="middle">62</text>
<text x="366.29" y="170.13" font-size="7.4" fill="#000" stroke="#000" stroke-width="0.2" opacity="0.72" text-anchor="middle">67</text>
<text x="294.21" y="184.49" font-size="7.4" fill="#f4f6fa" stroke="#f4f6fa" stroke-width="0.2" opacity="0.92" text-anchor="middle">14</text>
<text x="308.62" y="184.49" font-size="7.4" fill="#000" stroke="#000" stroke-width="0.2" opacity="0.72" text-anchor="middle">26</text>
<text x="323.04" y="184.49" font-size="7.4" fill="#000" stroke="#000" stroke-width="0.2" opacity="0.72" text-anchor="middle">38</text>
<text x="337.46" y="184.49" font-size="7.4" fill="#000" stroke="#000" stroke-width="0.2" opacity="0.72" text-anchor="middle">52</text>
<text x="351.88" y="184.49" font-size="7.4" fill="#000" stroke="#000" stroke-width="0.2" opacity="0.72" text-anchor="middle">62</text>
<text x="366.29" y="184.49" font-size="7.4" fill="#000" stroke="#000" stroke-width="0.2" opacity="0.72" text-anchor="middle">67</text>
<text x="294.21" y="198.86" font-size="7.4" fill="#f4f6fa" stroke="#f4f6fa" stroke-width="0.2" opacity="0.92" text-anchor="middle">4</text>
<text x="308.62" y="198.86" font-size="7.4" fill="#f4f6fa" stroke="#f4f6fa" stroke-width="0.2" opacity="0.92" text-anchor="middle">18</text>
<text x="323.04" y="198.86" font-size="7.4" fill="#000" stroke="#000" stroke-width="0.2" opacity="0.72" text-anchor="middle">34</text>
<text x="337.46" y="198.86" font-size="7.4" fill="#000" stroke="#000" stroke-width="0.2" opacity="0.72" text-anchor="middle">51</text>
<text x="351.88" y="198.86" font-size="7.4" fill="#000" stroke="#000" stroke-width="0.2" opacity="0.72" text-anchor="middle">62</text>
<text x="366.29" y="198.86" font-size="7.4" fill="#000" stroke="#000" stroke-width="0.2" opacity="0.72" text-anchor="middle">67</text>
<text x="294.21" y="213.22" font-size="7.4" fill="#f4f6fa" stroke="#f4f6fa" stroke-width="0.2" opacity="0.92" text-anchor="middle">1</text>
<text x="308.62" y="213.22" font-size="7.4" fill="#f4f6fa" stroke="#f4f6fa" stroke-width="0.2" opacity="0.92" text-anchor="middle">14</text>
<text x="323.04" y="213.22" font-size="7.4" fill="#000" stroke="#000" stroke-width="0.2" opacity="0.72" text-anchor="middle">32</text>
<text x="337.46" y="213.22" font-size="7.4" fill="#000" stroke="#000" stroke-width="0.2" opacity="0.72" text-anchor="middle">51</text>
<text x="351.88" y="213.22" font-size="7.4" fill="#000" stroke="#000" stroke-width="0.2" opacity="0.72" text-anchor="middle">62</text>
<text x="366.29" y="213.22" font-size="7.4" fill="#000" stroke="#000" stroke-width="0.2" opacity="0.72" text-anchor="middle">67</text>
<text x="294.21" y="227.59" font-size="7.4" fill="#f4f6fa" stroke="#f4f6fa" stroke-width="0.2" opacity="0.92" text-anchor="middle">0</text>
<text x="308.62" y="227.59" font-size="7.4" fill="#f4f6fa" stroke="#f4f6fa" stroke-width="0.2" opacity="0.92" text-anchor="middle">13</text>
<text x="323.04" y="227.59" font-size="7.4" fill="#000" stroke="#000" stroke-width="0.2" opacity="0.72" text-anchor="middle">31</text>
<text x="337.46" y="227.59" font-size="7.4" fill="#000" stroke="#000" stroke-width="0.2" opacity="0.72" text-anchor="middle">51</text>
<text x="351.88" y="227.59" font-size="7.4" fill="#000" stroke="#000" stroke-width="0.2" opacity="0.72" text-anchor="middle">62</text>
<text x="366.29" y="227.59" font-size="7.4" fill="#000" stroke="#000" stroke-width="0.2" opacity="0.72" text-anchor="middle">67</text>
<rect x="362.50" y="143.80" width="10.5" height="1.1" fill="#c4c8d0"/>
<text x="330.50" y="141.50" font-size="8.64" fill="#626262" text-anchor="middle" font-weight="normal" textLength="79.80" lengthAdjust="spacingAndGlyphs" stroke="#626262" stroke-width="0.15">ADD Model Inhibition</text>
<text x="265.80" y="189.10" font-size="7.42" fill="#585858" text-anchor="middle" font-weight="normal" transform="rotate(-90 265.80 189.10)" textLength="78.40" lengthAdjust="spacingAndGlyphs" stroke="#585858" stroke-width="0.15">Papaverine Hydrochloride</text>
<text x="274.60" y="189.50" font-size="7.738" fill="#585858" text-anchor="middle" font-weight="normal" transform="rotate(-90 274.60 189.50)" textLength="14.60" lengthAdjust="spacingAndGlyphs" stroke="#585858" stroke-width="0.15">(uM)</text>
<text x="281.60" y="152.98" font-size="6.5" fill="#686868" text-anchor="middle" font-weight="normal" transform="rotate(-90 281.60 152.98)">30</text>
<line x1="284.80" y1="152.98" x2="286.20" y2="152.98" stroke="#b0b0b0" stroke-width="0.6"/>
<text x="281.60" y="167.35" font-size="6.5" fill="#686868" text-anchor="middle" font-weight="normal" transform="rotate(-90 281.60 167.35)">10</text>
<line x1="284.80" y1="167.35" x2="286.20" y2="167.35" stroke="#b0b0b0" stroke-width="0.6"/>
<text x="281.60" y="181.72" font-size="6.5" fill="#686868" text-anchor="middle" font-weight="normal" transform="rotate(-90 281.60 181.72)">3.4</text>
<line x1="284.80" y1="181.72" x2="286.20" y2="181.72" stroke="#b0b0b0" stroke-width="0.6"/>
<text x="281.60" y="196.08" font-size="6.5" fill="#686868" text-anchor="middle" font-weight="normal" transform="rotate(-90 281.60 196.08)">1.1</text>
<line x1="284.80" y1="196.08" x2="286.20" y2="196.08" stroke="#b0b0b0" stroke-width="0.6"/>
<text x="281.60" y="210.45" font-size="6.5" fill="#686868" text-anchor="middle" font-weight="normal" transform="rotate(-90 281.60 210.45)">.38</text>
<line x1="284.80" y1="210.45" x2="286.20" y2="210.45" stroke="#b0b0b0" stroke-width="0.6"/>
<text x="281.60" y="224.82" font-size="6.5" fill="#686868" text-anchor="middle" font-weight="normal" transform="rotate(-90 281.60 224.82)">0</text>
<line x1="284.80" y1="224.82" x2="286.20" y2="224.82" stroke="#b0b0b0" stroke-width="0.6"/>
<text x="294.21" y="240.60" font-size="6.5" fill="#686868" text-anchor="middle" font-weight="normal">0</text>
<line x1="294.21" y1="232.80" x2="294.21" y2="234.20" stroke="#b0b0b0" stroke-width="0.6"/>
<text x="308.62" y="239.40" font-size="4.81" fill="#686868" text-anchor="middle" font-weight="normal">.0043</text>
<line x1="308.62" y1="232.80" x2="308.62" y2="234.20" stroke="#b0b0b0" stroke-width="0.6"/>
<text x="323.04" y="240.60" font-size="6.5" fill="#686868" text-anchor="middle" font-weight="normal">.013</text>
<line x1="323.04" y1="232.80" x2="323.04" y2="234.20" stroke="#b0b0b0" stroke-width="0.6"/>
<text x="337.46" y="240.60" font-size="6.5" fill="#686868" text-anchor="middle" font-weight="normal">.039</text>
<line x1="337.46" y1="232.80" x2="337.46" y2="234.20" stroke="#b0b0b0" stroke-width="0.6"/>
<text x="351.88" y="240.60" font-size="6.5" fill="#686868" text-anchor="middle" font-weight="normal">.12</text>
<line x1="351.88" y1="232.80" x2="351.88" y2="234.20" stroke="#b0b0b0" stroke-width="0.6"/>
<text x="366.29" y="240.60" font-size="6.5" fill="#686868" text-anchor="middle" font-weight="normal">.35</text>
<line x1="366.29" y1="232.80" x2="366.29" y2="234.20" stroke="#b0b0b0" stroke-width="0.6"/>
<text x="330.10" y="249.70" font-size="7.42" fill="#585858" text-anchor="middle" font-weight="normal" textLength="73.30" lengthAdjust="spacingAndGlyphs" stroke="#585858" stroke-width="0.15">Dexamethasone (uM)</text>
<rect x="412.60" y="20.20" width="15.60" height="15.05" fill="#0c0e2c"/>
<rect x="428.15" y="20.20" width="15.60" height="15.05" fill="#13406c"/>
<rect x="443.70" y="20.20" width="15.60" height="15.05" fill="#1ee81e"/>
<rect x="459.25" y="20.20" width="15.60" height="15.05" fill="#166c87"/>
<rect x="474.80" y="20.20" width="15.60" height="15.05" fill="#166c87"/>
<rect x="490.35" y="20.20" width="15.60" height="15.05" fill="#166082"/>
<rect x="412.60" y="35.20" width="15.60" height="15.05" fill="#0c1030"/>
<rect x="428.15" y="35.20" width="15.60" height="15.05" fill="#0d153a"/>
<rect x="443.70" y="35.20" width="15.60" height="15.05" fill="#24e230"/>
<rect x="459.25" y="35.20" width="15.60" height="15.05" fill="#168a91"/>
<rect x="474.80" y="35.20" width="15.60" height="15.05" fill="#166082"/>
<rect x="490.35" y="35.20" width="15.60" height="15.05" fill="#166c87"/>
<rect x="412.60" y="50.20" width="15.60" height="15.05" fill="#100a18"/>
<rect x="428.15" y="50.20" width="15.60" height="15.05" fill="#11305f"/>
<rect x="443.70" y="50.20" width="15.60" height="15.05" fill="#21e527"/>
<rect x="459.25" y="50.20" width="15.60" height="15.05" fill="#168a91"/>
<rect x="474.80" y="50.20" width="15.60" height="15.05" fill="#167d8e"/>
<rect x="490.35" y="50.20" width="15.60" height="15.05" fill="#16778c"/>
<rect x="412.60" y="65.20" width="15.60" height="15.05" fill="#0e0a17"/>
<rect x="428.15" y="65.20" width="15.60" height="15.05" fill="#102858"/>
<rect x="443.70" y="65.20" width="15.60" height="15.05" fill="#24e230"/>
<rect x="459.25" y="65.20" width="15.60" height="15.05" fill="#169691"/>
<rect x="474.80" y="65.20" width="15.60" height="15.05" fill="#16778c"/>
<rect x="490.35" y="65.20" width="15.60" height="15.05" fill="#16778c"/>
<rect x="412.60" y="80.20" width="15.60" height="15.05" fill="#0c1131"/>
<rect x="428.15" y="80.20" width="15.60" height="15.05" fill="#1ebc8a"/>
<rect x="443.70" y="80.20" width="15.60" height="15.05" fill="#28eb19"/>
<rect x="459.25" y="80.20" width="15.60" height="15.05" fill="#166c87"/>
<rect x="474.80" y="80.20" width="15.60" height="15.05" fill="#16778c"/>
<rect x="490.35" y="80.20" width="15.60" height="15.05" fill="#167d8e"/>
<rect x="412.60" y="95.20" width="15.60" height="15.05" fill="#1f0b26"/>
<rect x="428.15" y="95.20" width="15.60" height="15.05" fill="#180a1e"/>
<rect x="443.70" y="95.20" width="15.60" height="15.05" fill="#0c1132"/>
<rect x="459.25" y="95.20" width="15.60" height="15.05" fill="#0e0a17"/>
<rect x="474.80" y="95.20" width="15.60" height="15.05" fill="#140a1b"/>
<rect x="490.35" y="95.20" width="15.60" height="15.05" fill="#0d1233"/>
<line x1="412.60" y1="20.20" x2="412.60" y2="110.20" stroke="rgba(60,55,65,0.24)" stroke-width="0.8"/>
<line x1="412.60" y1="20.20" x2="505.90" y2="20.20" stroke="rgba(60,55,65,0.24)" stroke-width="0.8"/>
<line x1="428.15" y1="20.20" x2="428.15" y2="110.20" stroke="rgba(60,55,65,0.24)" stroke-width="0.8"/>
<line x1="412.60" y1="35.20" x2="505.90" y2="35.20" stroke="rgba(60,55,65,0.24)" stroke-width="0.8"/>
<line x1="443.70" y1="20.20" x2="443.70" y2="110.20" stroke="rgba(60,55,65,0.24)" stroke-width="0.8"/>
<line x1="412.60" y1="50.20" x2="505.90" y2="50.20" stroke="rgba(60,55,65,0.24)" stroke-width="0.8"/>
<line x1="459.25" y1="20.20" x2="459.25" y2="110.20" stroke="rgba(60,55,65,0.24)" stroke-width="0.8"/>
<line x1="412.60" y1="65.20" x2="505.90" y2="65.20" stroke="rgba(60,55,65,0.24)" stroke-width="0.8"/>
<line x1="474.80" y1="20.20" x2="474.80" y2="110.20" stroke="rgba(60,55,65,0.24)" stroke-width="0.8"/>
<line x1="412.60" y1="80.20" x2="505.90" y2="80.20" stroke="rgba(60,55,65,0.24)" stroke-width="0.8"/>
<line x1="490.35" y1="20.20" x2="490.35" y2="110.20" stroke="rgba(60,55,65,0.24)" stroke-width="0.8"/>
<line x1="412.60" y1="95.20" x2="505.90" y2="95.20" stroke="rgba(60,55,65,0.24)" stroke-width="0.8"/>
<line x1="505.90" y1="20.20" x2="505.90" y2="110.20" stroke="rgba(60,55,65,0.24)" stroke-width="0.8"/>
<line x1="412.60" y1="110.20" x2="505.90" y2="110.20" stroke="rgba(60,55,65,0.24)" stroke-width="0.8"/>
<text x="420.38" y="30.48" font-size="7.4" fill="#f4f6fa" stroke="#f4f6fa" stroke-width="0.2" opacity="0.92" text-anchor="middle">1</text>
<text x="435.93" y="30.48" font-size="7.4" fill="#f4f6fa" stroke="#f4f6fa" stroke-width="0.2" opacity="0.92" text-anchor="middle">15</text>
<text x="451.48" y="30.48" font-size="7.4" fill="#f4f6fa" stroke="#f4f6fa" stroke-width="0.2" opacity="0.92" text-anchor="middle">42</text>
<text x="467.02" y="30.48" font-size="7.4" fill="#f4f6fa" stroke="#f4f6fa" stroke-width="0.2" opacity="0.92" text-anchor="middle">20</text>
<text x="482.57" y="30.48" font-size="7.4" fill="#f4f6fa" stroke="#f4f6fa" stroke-width="0.2" opacity="0.92" text-anchor="middle">20</text>
<text x="498.12" y="30.48" font-size="7.4" fill="#f4f6fa" stroke="#f4f6fa" stroke-width="0.2" opacity="0.92" text-anchor="middle">19</text>
<text x="420.38" y="45.48" font-size="7.4" fill="#f4f6fa" stroke="#f4f6fa" stroke-width="0.2" opacity="0.92" text-anchor="middle">1.7</text>
<text x="435.93" y="45.48" font-size="7.4" fill="#f4f6fa" stroke="#f4f6fa" stroke-width="0.2" opacity="0.92" text-anchor="middle">3.4</text>
<text x="451.48" y="45.48" font-size="7.4" fill="#f4f6fa" stroke="#f4f6fa" stroke-width="0.2" opacity="0.92" text-anchor="middle">40</text>
<text x="467.02" y="45.48" font-size="7.4" fill="#000" stroke="#000" stroke-width="0.2" opacity="0.72" text-anchor="middle">24</text>
<text x="482.57" y="45.48" font-size="7.4" fill="#f4f6fa" stroke="#f4f6fa" stroke-width="0.2" opacity="0.92" text-anchor="middle">19</text>
<text x="498.12" y="45.48" font-size="7.4" fill="#f4f6fa" stroke="#f4f6fa" stroke-width="0.2" opacity="0.92" text-anchor="middle">20</text>
<text x="420.38" y="60.48" font-size="7.4" fill="#f4f6fa" stroke="#f4f6fa" stroke-width="0.2" opacity="0.92" text-anchor="middle">-2.2</text>
<text x="435.93" y="60.48" font-size="7.4" fill="#f4f6fa" stroke="#f4f6fa" stroke-width="0.2" opacity="0.92" text-anchor="middle">12</text>
<text x="451.48" y="60.48" font-size="7.4" fill="#f4f6fa" stroke="#f4f6fa" stroke-width="0.2" opacity="0.92" text-anchor="middle">41</text>
<text x="467.02" y="60.48" font-size="7.4" fill="#000" stroke="#000" stroke-width="0.2" opacity="0.72" text-anchor="middle">24</text>
<text x="482.57" y="60.48" font-size="7.4" fill="#000" stroke="#000" stroke-width="0.2" opacity="0.72" text-anchor="middle">22</text>
<text x="498.12" y="60.48" font-size="7.4" fill="#000" stroke="#000" stroke-width="0.2" opacity="0.72" text-anchor="middle">21</text>
<text x="420.38" y="75.48" font-size="7.4" fill="#f4f6fa" stroke="#f4f6fa" stroke-width="0.2" opacity="0.92" text-anchor="middle">-1.5</text>
<text x="435.93" y="75.48" font-size="7.4" fill="#f4f6fa" stroke="#f4f6fa" stroke-width="0.2" opacity="0.92" text-anchor="middle">10</text>
<text x="451.48" y="75.48" font-size="7.4" fill="#000" stroke="#000" stroke-width="0.2" opacity="0.72" text-anchor="middle">40</text>
<text x="467.02" y="75.48" font-size="7.4" fill="#000" stroke="#000" stroke-width="0.2" opacity="0.72" text-anchor="middle">26</text>
<text x="482.57" y="75.48" font-size="7.4" fill="#f4f6fa" stroke="#f4f6fa" stroke-width="0.2" opacity="0.92" text-anchor="middle">21</text>
<text x="498.12" y="75.48" font-size="7.4" fill="#000" stroke="#000" stroke-width="0.2" opacity="0.72" text-anchor="middle">21</text>
<text x="420.38" y="90.48" font-size="7.4" fill="#f4f6fa" stroke="#f4f6fa" stroke-width="0.2" opacity="0.92" text-anchor="middle">1.9</text>
<text x="435.93" y="90.48" font-size="7.4" fill="#000" stroke="#000" stroke-width="0.2" opacity="0.72" text-anchor="middle">33</text>
<text x="451.48" y="90.48" font-size="7.4" fill="#000" stroke="#000" stroke-width="0.2" opacity="0.72" text-anchor="middle">44</text>
<text x="467.02" y="90.48" font-size="7.4" fill="#f4f6fa" stroke="#f4f6fa" stroke-width="0.2" opacity="0.92" text-anchor="middle">20</text>
<text x="482.57" y="90.48" font-size="7.4" fill="#f4f6fa" stroke="#f4f6fa" stroke-width="0.2" opacity="0.92" text-anchor="middle">21</text>
<text x="498.12" y="90.48" font-size="7.4" fill="#000" stroke="#000" stroke-width="0.2" opacity="0.72" text-anchor="middle">22</text>
<text x="420.38" y="105.48" font-size="7.4" fill="#f4f6fa" stroke="#f4f6fa" stroke-width="0.2" opacity="0.92" text-anchor="middle">-6.1</text>
<text x="435.93" y="105.48" font-size="7.4" fill="#f4f6fa" stroke="#f4f6fa" stroke-width="0.2" opacity="0.92" text-anchor="middle">-5</text>
<text x="451.48" y="105.48" font-size="7.4" fill="#f4f6fa" stroke="#f4f6fa" stroke-width="0.2" opacity="0.92" text-anchor="middle">2</text>
<text x="467.02" y="105.48" font-size="7.4" fill="#f4f6fa" stroke="#f4f6fa" stroke-width="0.2" opacity="0.92" text-anchor="middle">-1.5</text>
<text x="482.57" y="105.48" font-size="7.4" fill="#f4f6fa" stroke="#f4f6fa" stroke-width="0.2" opacity="0.92" text-anchor="middle">-3.7</text>
<text x="498.12" y="105.48" font-size="7.4" fill="#f4f6fa" stroke="#f4f6fa" stroke-width="0.2" opacity="0.92" text-anchor="middle">2.2</text>
<rect x="494.90" y="18.20" width="10.5" height="1.1" fill="#c4c8d0"/>
<text x="459.35" y="14.80" font-size="7.0200000000000005" fill="#626262" text-anchor="middle" font-weight="normal" textLength="79.70" lengthAdjust="spacingAndGlyphs" stroke="#626262" stroke-width="0.15">ADD Excess Inhibition (%)</text>
<text x="399.30" y="65.15" font-size="8.48" fill="#585858" text-anchor="middle" font-weight="normal" transform="rotate(-90 399.30 65.15)" textLength="76.70" lengthAdjust="spacingAndGlyphs" stroke="#585858" stroke-width="0.15">Chloro-IB-MECA (uM)</text>
<text x="407.50" y="27.70" font-size="6.5" fill="#686868" text-anchor="middle" font-weight="normal" transform="rotate(-90 407.50 27.70)">3.1</text>
<line x1="410.40" y1="27.70" x2="411.80" y2="27.70" stroke="#b0b0b0" stroke-width="0.6"/>
<text x="407.50" y="42.70" font-size="6.5" fill="#686868" text-anchor="middle" font-weight="normal" transform="rotate(-90 407.50 42.70)">1.5</text>
<line x1="410.40" y1="42.70" x2="411.80" y2="42.70" stroke="#b0b0b0" stroke-width="0.6"/>
<text x="407.50" y="57.70" font-size="6.5" fill="#686868" text-anchor="middle" font-weight="normal" transform="rotate(-90 407.50 57.70)">.77</text>
<line x1="410.40" y1="57.70" x2="411.80" y2="57.70" stroke="#b0b0b0" stroke-width="0.6"/>
<text x="407.50" y="72.70" font-size="6.5" fill="#686868" text-anchor="middle" font-weight="normal" transform="rotate(-90 407.50 72.70)">.39</text>
<line x1="410.40" y1="72.70" x2="411.80" y2="72.70" stroke="#b0b0b0" stroke-width="0.6"/>
<text x="407.50" y="87.70" font-size="6.5" fill="#686868" text-anchor="middle" font-weight="normal" transform="rotate(-90 407.50 87.70)">.19</text>
<line x1="410.40" y1="87.70" x2="411.80" y2="87.70" stroke="#b0b0b0" stroke-width="0.6"/>
<text x="407.50" y="102.70" font-size="6.5" fill="#686868" text-anchor="middle" font-weight="normal" transform="rotate(-90 407.50 102.70)">0</text>
<line x1="410.40" y1="102.70" x2="411.80" y2="102.70" stroke="#b0b0b0" stroke-width="0.6"/>
<text x="420.38" y="119.00" font-size="6.5" fill="#686868" text-anchor="middle" font-weight="normal">0</text>
<line x1="420.38" y1="111.00" x2="420.38" y2="112.40" stroke="#b0b0b0" stroke-width="0.6"/>
<text x="435.93" y="117.80" font-size="4.81" fill="#686868" text-anchor="middle" font-weight="normal">.0043</text>
<line x1="435.93" y1="111.00" x2="435.93" y2="112.40" stroke="#b0b0b0" stroke-width="0.6"/>
<text x="451.48" y="119.00" font-size="6.5" fill="#686868" text-anchor="middle" font-weight="normal">.013</text>
<line x1="451.48" y1="111.00" x2="451.48" y2="112.40" stroke="#b0b0b0" stroke-width="0.6"/>
<text x="467.02" y="119.00" font-size="6.5" fill="#686868" text-anchor="middle" font-weight="normal">.039</text>
<line x1="467.02" y1="111.00" x2="467.02" y2="112.40" stroke="#b0b0b0" stroke-width="0.6"/>
<text x="482.57" y="119.00" font-size="6.5" fill="#686868" text-anchor="middle" font-weight="normal">.12</text>
<line x1="482.57" y1="111.00" x2="482.57" y2="112.40" stroke="#b0b0b0" stroke-width="0.6"/>
<text x="498.12" y="119.00" font-size="6.5" fill="#686868" text-anchor="middle" font-weight="normal">.35</text>
<line x1="498.12" y1="111.00" x2="498.12" y2="112.40" stroke="#b0b0b0" stroke-width="0.6"/>
<text x="459.20" y="128.00" font-size="7.844000000000001" fill="#585858" text-anchor="middle" font-weight="normal" textLength="79.80" lengthAdjust="spacingAndGlyphs" stroke="#585858" stroke-width="0.15">Dexamethasone (uM)</text>
<text x="513.60" y="39.30" font-size="6.6" fill="#6a6a6a" text-anchor="middle" font-weight="normal" transform="rotate(-90 513.60 39.30)" textLength="27.00" lengthAdjust="spacingAndGlyphs">Chi2=300</text>
<text x="513.80" y="87.00" font-size="6.6" fill="#6a6a6a" text-anchor="middle" font-weight="normal" transform="rotate(-90 513.80 87.00)" textLength="45.00" lengthAdjust="spacingAndGlyphs">Vol=6.01(.076)</text>
<rect x="416.90" y="153.40" width="15.65" height="15.05" fill="#0e173e"/>
<rect x="432.50" y="153.40" width="15.65" height="15.05" fill="#169091"/>
<rect x="448.10" y="153.40" width="15.65" height="15.05" fill="#1fc183"/>
<rect x="463.70" y="153.40" width="15.65" height="15.05" fill="#23d659"/>
<rect x="479.30" y="153.40" width="15.65" height="15.05" fill="#1ebc8a"/>
<rect x="494.90" y="153.40" width="15.65" height="15.05" fill="#18a490"/>
<rect x="416.90" y="168.40" width="15.65" height="15.05" fill="#0f0a18"/>
<rect x="432.50" y="168.40" width="15.65" height="15.05" fill="#0e173e"/>
<rect x="448.10" y="168.40" width="15.65" height="15.05" fill="#168a91"/>
<rect x="463.70" y="168.40" width="15.65" height="15.05" fill="#19a98f"/>
<rect x="479.30" y="168.40" width="15.65" height="15.05" fill="#169691"/>
<rect x="494.90" y="168.40" width="15.65" height="15.05" fill="#169091"/>
<rect x="416.90" y="183.40" width="15.65" height="15.05" fill="#150a1c"/>
<rect x="432.50" y="183.40" width="15.65" height="15.05" fill="#102c5c"/>
<rect x="448.10" y="183.40" width="15.65" height="15.05" fill="#102858"/>
<rect x="463.70" y="183.40" width="15.65" height="15.05" fill="#16778c"/>
<rect x="479.30" y="183.40" width="15.65" height="15.05" fill="#144872"/>
<rect x="494.90" y="183.40" width="15.65" height="15.05" fill="#13406c"/>
<rect x="416.90" y="198.40" width="15.65" height="15.05" fill="#0f204c"/>
<rect x="432.50" y="198.40" width="15.65" height="15.05" fill="#0c0c24"/>
<rect x="448.10" y="198.40" width="15.65" height="15.05" fill="#0c1132"/>
<rect x="463.70" y="198.40" width="15.65" height="15.05" fill="#0e173e"/>
<rect x="479.30" y="198.40" width="15.65" height="15.05" fill="#11305f"/>
<rect x="494.90" y="198.40" width="15.65" height="15.05" fill="#0f204c"/>
<rect x="416.90" y="213.40" width="15.65" height="15.05" fill="#15587d"/>
<rect x="432.50" y="213.40" width="15.65" height="15.05" fill="#150a1c"/>
<rect x="448.10" y="213.40" width="15.65" height="15.05" fill="#320f3c"/>
<rect x="463.70" y="213.40" width="15.65" height="15.05" fill="#0e1a44"/>
<rect x="479.30" y="213.40" width="15.65" height="15.05" fill="#0e1d48"/>
<rect x="494.90" y="213.40" width="15.65" height="15.05" fill="#0e173e"/>
<rect x="416.90" y="228.40" width="15.65" height="15.05" fill="#0f0a18"/>
<rect x="432.50" y="228.40" width="15.65" height="15.05" fill="#0c0a16"/>
<rect x="448.10" y="228.40" width="15.65" height="15.05" fill="#0c0a16"/>
<rect x="463.70" y="228.40" width="15.65" height="15.05" fill="#0c0a16"/>
<rect x="479.30" y="228.40" width="15.65" height="15.05" fill="#0c0a16"/>
<rect x="494.90" y="228.40" width="15.65" height="15.05" fill="#0c0a16"/>
<line x1="416.90" y1="153.40" x2="416.90" y2="243.40" stroke="rgba(60,55,65,0.24)" stroke-width="0.8"/>
<line x1="416.90" y1="153.40" x2="510.50" y2="153.40" stroke="rgba(60,55,65,0.24)" stroke-width="0.8"/>
<line x1="432.50" y1="153.40" x2="432.50" y2="243.40" stroke="rgba(60,55,65,0.24)" stroke-width="0.8"/>
<line x1="416.90" y1="168.40" x2="510.50" y2="168.40" stroke="rgba(60,55,65,0.24)" stroke-width="0.8"/>
<line x1="448.10" y1="153.40" x2="448.10" y2="243.40" stroke="rgba(60,55,65,0.24)" stroke-width="0.8"/>
<line x1="416.90" y1="183.40" x2="510.50" y2="183.40" stroke="rgba(60,55,65,0.24)" stroke-width="0.8"/>
<line x1="463.70" y1="153.40" x2="463.70" y2="243.40" stroke="rgba(60,55,65,0.24)" stroke-width="0.8"/>
<line x1="416.90" y1="198.40" x2="510.50" y2="198.40" stroke="rgba(60,55,65,0.24)" stroke-width="0.8"/>
<line x1="479.30" y1="153.40" x2="479.30" y2="243.40" stroke="rgba(60,55,65,0.24)" stroke-width="0.8"/>
<line x1="416.90" y1="213.40" x2="510.50" y2="213.40" stroke="rgba(60,55,65,0.24)" stroke-width="0.8"/>
<line x1="494.90" y1="153.40" x2="494.90" y2="243.40" stroke="rgba(60,55,65,0.24)" stroke-width="0.8"/>
<line x1="416.90" y1="228.40" x2="510.50" y2="228.40" stroke="rgba(60,55,65,0.24)" stroke-width="0.8"/>
<line x1="510.50" y1="153.40" x2="510.50" y2="243.40" stroke="rgba(60,55,65,0.24)" stroke-width="0.8"/>
<line x1="416.90" y1="243.40" x2="510.50" y2="243.40" stroke="rgba(60,55,65,0.24)" stroke-width="0.8"/>
<text x="424.70" y="163.68" font-size="7.4" fill="#f4f6fa" stroke="#f4f6fa" stroke-width="0.2" opacity="0.92" text-anchor="middle">4</text>
<text x="440.30" y="163.68" font-size="7.4" fill="#000" stroke="#000" stroke-width="0.2" opacity="0.72" text-anchor="middle">25</text>
<text x="455.90" y="163.68" font-size="7.4" fill="#000" stroke="#000" stroke-width="0.2" opacity="0.72" text-anchor="middle">34</text>
<text x="471.50" y="163.68" font-size="7.4" fill="#000" stroke="#000" stroke-width="0.2" opacity="0.72" text-anchor="middle">38</text>
<text x="487.10" y="163.68" font-size="7.4" fill="#000" stroke="#000" stroke-width="0.2" opacity="0.72" text-anchor="middle">33</text>
<text x="502.70" y="163.68" font-size="7.4" fill="#000" stroke="#000" stroke-width="0.2" opacity="0.72" text-anchor="middle">28</text>
<text x="424.70" y="178.68" font-size="7.4" fill="#f4f6fa" stroke="#f4f6fa" stroke-width="0.2" opacity="0.92" text-anchor="middle">-2</text>
<text x="440.30" y="178.68" font-size="7.4" fill="#f4f6fa" stroke="#f4f6fa" stroke-width="0.2" opacity="0.92" text-anchor="middle">4</text>
<text x="455.90" y="178.68" font-size="7.4" fill="#000" stroke="#000" stroke-width="0.2" opacity="0.72" text-anchor="middle">24</text>
<text x="471.50" y="178.68" font-size="7.4" fill="#000" stroke="#000" stroke-width="0.2" opacity="0.72" text-anchor="middle">29</text>
<text x="487.10" y="178.68" font-size="7.4" fill="#000" stroke="#000" stroke-width="0.2" opacity="0.72" text-anchor="middle">26</text>
<text x="502.70" y="178.68" font-size="7.4" fill="#000" stroke="#000" stroke-width="0.2" opacity="0.72" text-anchor="middle">25</text>
<text x="424.70" y="193.68" font-size="7.4" fill="#f4f6fa" stroke="#f4f6fa" stroke-width="0.2" opacity="0.92" text-anchor="middle">-4</text>
<text x="440.30" y="193.68" font-size="7.4" fill="#f4f6fa" stroke="#f4f6fa" stroke-width="0.2" opacity="0.92" text-anchor="middle">11</text>
<text x="455.90" y="193.68" font-size="7.4" fill="#f4f6fa" stroke="#f4f6fa" stroke-width="0.2" opacity="0.92" text-anchor="middle">10</text>
<text x="471.50" y="193.68" font-size="7.4" fill="#000" stroke="#000" stroke-width="0.2" opacity="0.72" text-anchor="middle">21</text>
<text x="487.10" y="193.68" font-size="7.4" fill="#f4f6fa" stroke="#f4f6fa" stroke-width="0.2" opacity="0.92" text-anchor="middle">16</text>
<text x="502.70" y="193.68" font-size="7.4" fill="#f4f6fa" stroke="#f4f6fa" stroke-width="0.2" opacity="0.92" text-anchor="middle">15</text>
<text x="424.70" y="208.68" font-size="7.4" fill="#f4f6fa" stroke="#f4f6fa" stroke-width="0.2" opacity="0.92" text-anchor="middle">7</text>
<text x="440.30" y="208.68" font-size="7.4" fill="#f4f6fa" stroke="#f4f6fa" stroke-width="0.2" opacity="0.92" text-anchor="middle">0</text>
<text x="455.90" y="208.68" font-size="7.4" fill="#f4f6fa" stroke="#f4f6fa" stroke-width="0.2" opacity="0.92" text-anchor="middle">2</text>
<text x="471.50" y="208.68" font-size="7.4" fill="#f4f6fa" stroke="#f4f6fa" stroke-width="0.2" opacity="0.92" text-anchor="middle">4</text>
<text x="487.10" y="208.68" font-size="7.4" fill="#f4f6fa" stroke="#f4f6fa" stroke-width="0.2" opacity="0.92" text-anchor="middle">12</text>
<text x="502.70" y="208.68" font-size="7.4" fill="#f4f6fa" stroke="#f4f6fa" stroke-width="0.2" opacity="0.92" text-anchor="middle">7</text>
<text x="424.70" y="223.68" font-size="7.4" fill="#f4f6fa" stroke="#f4f6fa" stroke-width="0.2" opacity="0.92" text-anchor="middle">18</text>
<text x="440.30" y="223.68" font-size="7.4" fill="#f4f6fa" stroke="#f4f6fa" stroke-width="0.2" opacity="0.92" text-anchor="middle">-4</text>
<text x="455.90" y="223.68" font-size="7.4" fill="#f4f6fa" stroke="#f4f6fa" stroke-width="0.2" opacity="0.92" text-anchor="middle">-9</text>
<text x="471.50" y="223.68" font-size="7.4" fill="#f4f6fa" stroke="#f4f6fa" stroke-width="0.2" opacity="0.92" text-anchor="middle">5</text>
<text x="487.10" y="223.68" font-size="7.4" fill="#f4f6fa" stroke="#f4f6fa" stroke-width="0.2" opacity="0.92" text-anchor="middle">6</text>
<text x="502.70" y="223.68" font-size="7.4" fill="#f4f6fa" stroke="#f4f6fa" stroke-width="0.2" opacity="0.92" text-anchor="middle">4</text>
<text x="424.70" y="238.68" font-size="7.4" fill="#f4f6fa" stroke="#f4f6fa" stroke-width="0.2" opacity="0.92" text-anchor="middle">-2</text>
<text x="440.30" y="238.68" font-size="7.4" fill="#f4f6fa" stroke="#f4f6fa" stroke-width="0.2" opacity="0.92" text-anchor="middle">0</text>
<text x="455.90" y="238.68" font-size="7.4" fill="#f4f6fa" stroke="#f4f6fa" stroke-width="0.2" opacity="0.92" text-anchor="middle">0</text>
<text x="471.50" y="238.68" font-size="7.4" fill="#f4f6fa" stroke="#f4f6fa" stroke-width="0.2" opacity="0.92" text-anchor="middle">0</text>
<text x="487.10" y="238.68" font-size="7.4" fill="#f4f6fa" stroke="#f4f6fa" stroke-width="0.2" opacity="0.92" text-anchor="middle">0</text>
<text x="502.70" y="238.68" font-size="7.4" fill="#f4f6fa" stroke="#f4f6fa" stroke-width="0.2" opacity="0.92" text-anchor="middle">0</text>
<rect x="499.50" y="151.40" width="10.5" height="1.1" fill="#c4c8d0"/>
<text x="463.95" y="148.50" font-size="8.208" fill="#626262" text-anchor="middle" font-weight="normal" textLength="81.10" lengthAdjust="spacingAndGlyphs" stroke="#626262" stroke-width="0.15">ADD Excess Inhibition</text>
<text x="395.00" y="197.00" font-size="7.632000000000001" fill="#585858" text-anchor="middle" font-weight="normal" transform="rotate(-90 395.00 197.00)" textLength="81.10" lengthAdjust="spacingAndGlyphs" stroke="#585858" stroke-width="0.15">Papaverine Hydrochloride</text>
<text x="403.40" y="198.80" font-size="7.738" fill="#585858" text-anchor="middle" font-weight="normal" transform="rotate(-90 403.40 198.80)" textLength="14.60" lengthAdjust="spacingAndGlyphs" stroke="#585858" stroke-width="0.15">(uM)</text>
<text x="412.00" y="160.90" font-size="6.5" fill="#686868" text-anchor="middle" font-weight="normal" transform="rotate(-90 412.00 160.90)">30</text>
<line x1="414.70" y1="160.90" x2="416.10" y2="160.90" stroke="#b0b0b0" stroke-width="0.6"/>
<text x="412.00" y="175.90" font-size="6.5" fill="#686868" text-anchor="middle" font-weight="normal" transform="rotate(-90 412.00 175.90)">10</text>
<line x1="414.70" y1="175.90" x2="416.10" y2="175.90" stroke="#b0b0b0" stroke-width="0.6"/>
<text x="412.00" y="190.90" font-size="6.5" fill="#686868" text-anchor="middle" font-weight="normal" transform="rotate(-90 412.00 190.90)">3.4</text>
<line x1="414.70" y1="190.90" x2="416.10" y2="190.90" stroke="#b0b0b0" stroke-width="0.6"/>
<text x="412.00" y="205.90" font-size="6.5" fill="#686868" text-anchor="middle" font-weight="normal" transform="rotate(-90 412.00 205.90)">1.1</text>
<line x1="414.70" y1="205.90" x2="416.10" y2="205.90" stroke="#b0b0b0" stroke-width="0.6"/>
<text x="412.00" y="220.90" font-size="6.5" fill="#686868" text-anchor="middle" font-weight="normal" transform="rotate(-90 412.00 220.90)">.38</text>
<line x1="414.70" y1="220.90" x2="416.10" y2="220.90" stroke="#b0b0b0" stroke-width="0.6"/>
<text x="412.00" y="235.90" font-size="6.5" fill="#686868" text-anchor="middle" font-weight="normal" transform="rotate(-90 412.00 235.90)">0</text>
<line x1="414.70" y1="235.90" x2="416.10" y2="235.90" stroke="#b0b0b0" stroke-width="0.6"/>
<text x="424.70" y="250.60" font-size="6.5" fill="#686868" text-anchor="middle" font-weight="normal">0</text>
<line x1="424.70" y1="244.20" x2="424.70" y2="245.60" stroke="#b0b0b0" stroke-width="0.6"/>
<text x="440.30" y="249.40" font-size="4.81" fill="#686868" text-anchor="middle" font-weight="normal">.0043</text>
<line x1="440.30" y1="244.20" x2="440.30" y2="245.60" stroke="#b0b0b0" stroke-width="0.6"/>
<text x="455.90" y="250.60" font-size="6.5" fill="#686868" text-anchor="middle" font-weight="normal">.013</text>
<line x1="455.90" y1="244.20" x2="455.90" y2="245.60" stroke="#b0b0b0" stroke-width="0.6"/>
<text x="471.50" y="250.60" font-size="6.5" fill="#686868" text-anchor="middle" font-weight="normal">.039</text>
<line x1="471.50" y1="244.20" x2="471.50" y2="245.60" stroke="#b0b0b0" stroke-width="0.6"/>
<text x="487.10" y="250.60" font-size="6.5" fill="#686868" text-anchor="middle" font-weight="normal">.12</text>
<line x1="487.10" y1="244.20" x2="487.10" y2="245.60" stroke="#b0b0b0" stroke-width="0.6"/>
<text x="502.70" y="250.60" font-size="6.5" fill="#686868" text-anchor="middle" font-weight="normal">.35</text>
<line x1="502.70" y1="244.20" x2="502.70" y2="245.60" stroke="#b0b0b0" stroke-width="0.6"/>
<text x="464.20" y="261.00" font-size="7.844000000000001" fill="#585858" text-anchor="middle" font-weight="normal" textLength="80.50" lengthAdjust="spacingAndGlyphs" stroke="#585858" stroke-width="0.15">Dexamethasone (uM)</text>
<text x="517.60" y="170.70" font-size="6.6" fill="#6a6a6a" text-anchor="middle" font-weight="normal" transform="rotate(-90 517.60 170.70)" textLength="24.60" lengthAdjust="spacingAndGlyphs">Chi2=75</text>
<text x="517.80" y="220.00" font-size="6.6" fill="#6a6a6a" text-anchor="middle" font-weight="normal" transform="rotate(-90 517.80 220.00)" textLength="35.10" lengthAdjust="spacingAndGlyphs">Vol=3.67(.1)</text>
<rect x="33.50" y="291.20" width="15.75" height="15.07" fill="#acf230"/>
<rect x="49.20" y="291.20" width="15.75" height="15.07" fill="#fcd97b"/>
<rect x="64.90" y="291.20" width="15.75" height="15.07" fill="#f8bba6"/>
<rect x="80.60" y="291.20" width="15.75" height="15.07" fill="#fcdee6"/>
<rect x="96.30" y="291.20" width="15.75" height="15.07" fill="#fef0f6"/>
<rect x="112.00" y="291.20" width="15.75" height="15.07" fill="#fffcfd"/>
<rect x="33.50" y="306.22" width="15.75" height="15.07" fill="#7af026"/>
<rect x="49.20" y="306.22" width="15.75" height="15.07" fill="#f8f555"/>
<rect x="64.90" y="306.22" width="15.75" height="15.07" fill="#f8bd9d"/>
<rect x="80.60" y="306.22" width="15.75" height="15.07" fill="#f9c4c4"/>
<rect x="96.30" y="306.22" width="15.75" height="15.07" fill="#fce3ea"/>
<rect x="112.00" y="306.22" width="15.75" height="15.07" fill="#fef4f8"/>
<rect x="33.50" y="321.23" width="15.75" height="15.07" fill="#24dc45"/>
<rect x="49.20" y="321.23" width="15.75" height="15.07" fill="#e6f83f"/>
<rect x="64.90" y="321.23" width="15.75" height="15.07" fill="#fac890"/>
<rect x="80.60" y="321.23" width="15.75" height="15.07" fill="#f8beb9"/>
<rect x="96.30" y="321.23" width="15.75" height="15.07" fill="#fcd6de"/>
<rect x="112.00" y="321.23" width="15.75" height="15.07" fill="#fef4f8"/>
<rect x="33.50" y="336.25" width="15.75" height="15.07" fill="#19a98f"/>
<rect x="49.20" y="336.25" width="15.75" height="15.07" fill="#55ee1e"/>
<rect x="64.90" y="336.25" width="15.75" height="15.07" fill="#faec62"/>
<rect x="80.60" y="336.25" width="15.75" height="15.07" fill="#f8bcac"/>
<rect x="96.30" y="336.25" width="15.75" height="15.07" fill="#fbd2d9"/>
<rect x="112.00" y="336.25" width="15.75" height="15.07" fill="#fdecf3"/>
<rect x="33.50" y="351.27" width="15.75" height="15.07" fill="#166c87"/>
<rect x="49.20" y="351.27" width="15.75" height="15.07" fill="#24dc45"/>
<rect x="64.90" y="351.27" width="15.75" height="15.07" fill="#a0f12d"/>
<rect x="80.60" y="351.27" width="15.75" height="15.07" fill="#fac890"/>
<rect x="96.30" y="351.27" width="15.75" height="15.07" fill="#facbd0"/>
<rect x="112.00" y="351.27" width="15.75" height="15.07" fill="#fce3ea"/>
<rect x="33.50" y="366.28" width="15.75" height="15.07" fill="#0c0d29"/>
<rect x="49.20" y="366.28" width="15.75" height="15.07" fill="#123866"/>
<rect x="64.90" y="366.28" width="15.75" height="15.07" fill="#1db78b"/>
<rect x="80.60" y="366.28" width="15.75" height="15.07" fill="#61ef21"/>
<rect x="96.30" y="366.28" width="15.75" height="15.07" fill="#f4f650"/>
<rect x="112.00" y="366.28" width="15.75" height="15.07" fill="#f9c09a"/>
<line x1="33.50" y1="291.20" x2="33.50" y2="381.30" stroke="rgba(60,55,65,0.24)" stroke-width="0.8"/>
<line x1="33.50" y1="291.20" x2="127.70" y2="291.20" stroke="rgba(60,55,65,0.24)" stroke-width="0.8"/>
<line x1="49.20" y1="291.20" x2="49.20" y2="381.30" stroke="rgba(60,55,65,0.24)" stroke-width="0.8"/>
<line x1="33.50" y1="306.22" x2="127.70" y2="306.22" stroke="rgba(60,55,65,0.24)" stroke-width="0.8"/>
<line x1="64.90" y1="291.20" x2="64.90" y2="381.30" stroke="rgba(60,55,65,0.24)" stroke-width="0.8"/>
<line x1="33.50" y1="321.23" x2="127.70" y2="321.23" stroke="rgba(60,55,65,0.24)" stroke-width="0.8"/>
<line x1="80.60" y1="291.20" x2="80.60" y2="381.30" stroke="rgba(60,55,65,0.24)" stroke-width="0.8"/>
<line x1="33.50" y1="336.25" x2="127.70" y2="336.25" stroke="rgba(60,55,65,0.24)" stroke-width="0.8"/>
<line x1="96.30" y1="291.20" x2="96.30" y2="381.30" stroke="rgba(60,55,65,0.24)" stroke-width="0.8"/>
<line x1="33.50" y1="351.27" x2="127.70" y2="351.27" stroke="rgba(60,55,65,0.24)" stroke-width="0.8"/>
<line x1="112.00" y1="291.20" x2="112.00" y2="381.30" stroke="rgba(60,55,65,0.24)" stroke-width="0.8"/>
<line x1="33.50" y1="366.28" x2="127.70" y2="366.28" stroke="rgba(60,55,65,0.24)" stroke-width="0.8"/>
<line x1="127.70" y1="291.20" x2="127.70" y2="381.30" stroke="rgba(60,55,65,0.24)" stroke-width="0.8"/>
<line x1="33.50" y1="381.30" x2="127.70" y2="381.30" stroke="rgba(60,55,65,0.24)" stroke-width="0.8"/>
<text x="41.35" y="301.48" font-size="7.4" fill="#000" stroke="#000" stroke-width="0.2" opacity="0.72" text-anchor="middle">55</text>
<text x="57.05" y="301.48" font-size="7.4" fill="#000" stroke="#000" stroke-width="0.2" opacity="0.72" text-anchor="middle">70</text>
<text x="72.75" y="301.48" font-size="7.4" fill="#000" stroke="#000" stroke-width="0.2" opacity="0.72" text-anchor="middle">81</text>
<text x="88.45" y="301.48" font-size="7.4" fill="#000" stroke="#000" stroke-width="0.2" opacity="0.72" text-anchor="middle">93</text>
<text x="104.15" y="301.48" font-size="7.4" fill="#000" stroke="#000" stroke-width="0.2" opacity="0.72" text-anchor="middle">97</text>
<text x="119.85" y="301.48" font-size="7.4" fill="#000" stroke="#000" stroke-width="0.2" opacity="0.72" text-anchor="middle">100</text>
<text x="41.35" y="316.50" font-size="7.4" fill="#000" stroke="#000" stroke-width="0.2" opacity="0.72" text-anchor="middle">51</text>
<text x="57.05" y="316.50" font-size="7.4" fill="#000" stroke="#000" stroke-width="0.2" opacity="0.72" text-anchor="middle">64</text>
<text x="72.75" y="316.50" font-size="7.4" fill="#000" stroke="#000" stroke-width="0.2" opacity="0.72" text-anchor="middle">79</text>
<text x="88.45" y="316.50" font-size="7.4" fill="#000" stroke="#000" stroke-width="0.2" opacity="0.72" text-anchor="middle">86</text>
<text x="104.15" y="316.50" font-size="7.4" fill="#000" stroke="#000" stroke-width="0.2" opacity="0.72" text-anchor="middle">94</text>
<text x="119.85" y="316.50" font-size="7.4" fill="#000" stroke="#000" stroke-width="0.2" opacity="0.72" text-anchor="middle">98</text>
<text x="41.35" y="331.52" font-size="7.4" fill="#000" stroke="#000" stroke-width="0.2" opacity="0.72" text-anchor="middle">39</text>
<text x="57.05" y="331.52" font-size="7.4" fill="#000" stroke="#000" stroke-width="0.2" opacity="0.72" text-anchor="middle">60</text>
<text x="72.75" y="331.52" font-size="7.4" fill="#000" stroke="#000" stroke-width="0.2" opacity="0.72" text-anchor="middle">75</text>
<text x="88.45" y="331.52" font-size="7.4" fill="#000" stroke="#000" stroke-width="0.2" opacity="0.72" text-anchor="middle">84</text>
<text x="104.15" y="331.52" font-size="7.4" fill="#000" stroke="#000" stroke-width="0.2" opacity="0.72" text-anchor="middle">91</text>
<text x="119.85" y="331.52" font-size="7.4" fill="#000" stroke="#000" stroke-width="0.2" opacity="0.72" text-anchor="middle">98</text>
<text x="41.35" y="346.53" font-size="7.4" fill="#000" stroke="#000" stroke-width="0.2" opacity="0.72" text-anchor="middle">29</text>
<text x="57.05" y="346.53" font-size="7.4" fill="#000" stroke="#000" stroke-width="0.2" opacity="0.72" text-anchor="middle">48</text>
<text x="72.75" y="346.53" font-size="7.4" fill="#000" stroke="#000" stroke-width="0.2" opacity="0.72" text-anchor="middle">66</text>
<text x="88.45" y="346.53" font-size="7.4" fill="#000" stroke="#000" stroke-width="0.2" opacity="0.72" text-anchor="middle">82</text>
<text x="104.15" y="346.53" font-size="7.4" fill="#000" stroke="#000" stroke-width="0.2" opacity="0.72" text-anchor="middle">90</text>
<text x="119.85" y="346.53" font-size="7.4" fill="#000" stroke="#000" stroke-width="0.2" opacity="0.72" text-anchor="middle">96</text>
<text x="41.35" y="361.55" font-size="7.4" fill="#f4f6fa" stroke="#f4f6fa" stroke-width="0.2" opacity="0.92" text-anchor="middle">20</text>
<text x="57.05" y="361.55" font-size="7.4" fill="#000" stroke="#000" stroke-width="0.2" opacity="0.72" text-anchor="middle">39</text>
<text x="72.75" y="361.55" font-size="7.4" fill="#000" stroke="#000" stroke-width="0.2" opacity="0.72" text-anchor="middle">54</text>
<text x="88.45" y="361.55" font-size="7.4" fill="#000" stroke="#000" stroke-width="0.2" opacity="0.72" text-anchor="middle">75</text>
<text x="104.15" y="361.55" font-size="7.4" fill="#000" stroke="#000" stroke-width="0.2" opacity="0.72" text-anchor="middle">88</text>
<text x="119.85" y="361.55" font-size="7.4" fill="#000" stroke="#000" stroke-width="0.2" opacity="0.72" text-anchor="middle">94</text>
<text x="41.35" y="376.57" font-size="7.4" fill="#f4f6fa" stroke="#f4f6fa" stroke-width="0.2" opacity="0.92" text-anchor="middle">.6</text>
<text x="57.05" y="376.57" font-size="7.4" fill="#f4f6fa" stroke="#f4f6fa" stroke-width="0.2" opacity="0.92" text-anchor="middle">14</text>
<text x="72.75" y="376.57" font-size="7.4" fill="#000" stroke="#000" stroke-width="0.2" opacity="0.72" text-anchor="middle">32</text>
<text x="88.45" y="376.57" font-size="7.4" fill="#000" stroke="#000" stroke-width="0.2" opacity="0.72" text-anchor="middle">49</text>
<text x="104.15" y="376.57" font-size="7.4" fill="#000" stroke="#000" stroke-width="0.2" opacity="0.72" text-anchor="middle">63</text>
<text x="119.85" y="376.57" font-size="7.4" fill="#000" stroke="#000" stroke-width="0.2" opacity="0.72" text-anchor="middle">78</text>
<rect x="116.70" y="289.20" width="10.5" height="1.1" fill="#c4c8d0"/>
<text x="80.75" y="286.30" font-size="9.72" fill="#626262" text-anchor="middle" font-weight="normal" textLength="58.10" lengthAdjust="spacingAndGlyphs" stroke="#626262" stroke-width="0.15">Inhibition (%)</text>
<text x="20.30" y="336.35" font-size="8.48" fill="#585858" text-anchor="middle" font-weight="normal" transform="rotate(-90 20.30 336.35)" textLength="77.10" lengthAdjust="spacingAndGlyphs" stroke="#585858" stroke-width="0.15">Chloro-IB-MECA (uM)</text>
<text x="28.50" y="298.71" font-size="6.5" fill="#686868" text-anchor="middle" font-weight="normal" transform="rotate(-90 28.50 298.71)">3.1</text>
<line x1="31.30" y1="298.71" x2="32.70" y2="298.71" stroke="#b0b0b0" stroke-width="0.6"/>
<text x="28.50" y="313.73" font-size="6.5" fill="#686868" text-anchor="middle" font-weight="normal" transform="rotate(-90 28.50 313.73)">1.5</text>
<line x1="31.30" y1="313.73" x2="32.70" y2="313.73" stroke="#b0b0b0" stroke-width="0.6"/>
<text x="28.50" y="328.74" font-size="6.5" fill="#686868" text-anchor="middle" font-weight="normal" transform="rotate(-90 28.50 328.74)">.77</text>
<line x1="31.30" y1="328.74" x2="32.70" y2="328.74" stroke="#b0b0b0" stroke-width="0.6"/>
<text x="28.50" y="343.76" font-size="6.5" fill="#686868" text-anchor="middle" font-weight="normal" transform="rotate(-90 28.50 343.76)">.39</text>
<line x1="31.30" y1="343.76" x2="32.70" y2="343.76" stroke="#b0b0b0" stroke-width="0.6"/>
<text x="28.50" y="358.77" font-size="6.5" fill="#686868" text-anchor="middle" font-weight="normal" transform="rotate(-90 28.50 358.77)">.19</text>
<line x1="31.30" y1="358.77" x2="32.70" y2="358.77" stroke="#b0b0b0" stroke-width="0.6"/>
<text x="28.50" y="373.79" font-size="6.5" fill="#686868" text-anchor="middle" font-weight="normal" transform="rotate(-90 28.50 373.79)">0</text>
<line x1="31.30" y1="373.79" x2="32.70" y2="373.79" stroke="#b0b0b0" stroke-width="0.6"/>
<text x="41.35" y="390.90" font-size="6.5" fill="#686868" text-anchor="middle" font-weight="normal">0</text>
<line x1="41.35" y1="382.10" x2="41.35" y2="383.50" stroke="#b0b0b0" stroke-width="0.6"/>
<text x="57.05" y="390.90" font-size="6.5" fill="#686868" text-anchor="middle" font-weight="normal">1.9</text>
<line x1="57.05" y1="382.10" x2="57.05" y2="383.50" stroke="#b0b0b0" stroke-width="0.6"/>
<text x="72.75" y="390.90" font-size="6.5" fill="#686868" text-anchor="middle" font-weight="normal">3.8</text>
<line x1="72.75" y1="382.10" x2="72.75" y2="383.50" stroke="#b0b0b0" stroke-width="0.6"/>
<text x="88.45" y="390.90" font-size="6.5" fill="#686868" text-anchor="middle" font-weight="normal">7.7</text>
<line x1="88.45" y1="382.10" x2="88.45" y2="383.50" stroke="#b0b0b0" stroke-width="0.6"/>
<text x="104.15" y="390.90" font-size="6.5" fill="#686868" text-anchor="middle" font-weight="normal">15</text>
<line x1="104.15" y1="382.10" x2="104.15" y2="383.50" stroke="#b0b0b0" stroke-width="0.6"/>
<text x="119.85" y="390.90" font-size="6.5" fill="#686868" text-anchor="middle" font-weight="normal">31</text>
<line x1="119.85" y1="382.10" x2="119.85" y2="383.50" stroke="#b0b0b0" stroke-width="0.6"/>
<text x="81.00" y="399.30" font-size="7.844000000000001" fill="#585858" text-anchor="middle" font-weight="normal" textLength="85.70" lengthAdjust="spacingAndGlyphs" stroke="#585858" stroke-width="0.15">Papaverine Hydrochloride</text>
<text x="81.70" y="407.80" font-size="7.844000000000001" fill="#585858" text-anchor="middle" font-weight="normal" textLength="15.50" lengthAdjust="spacingAndGlyphs" stroke="#585858" stroke-width="0.15">(uM)</text>
<rect x="166.70" y="291.00" width="15.73" height="15.10" fill="#0c0c26"/>
<rect x="182.38" y="291.00" width="15.73" height="15.10" fill="#123866"/>
<rect x="198.07" y="291.00" width="15.73" height="15.10" fill="#168a91"/>
<rect x="213.75" y="291.00" width="15.73" height="15.10" fill="#1fc183"/>
<rect x="229.43" y="291.00" width="15.73" height="15.10" fill="#1cb28c"/>
<rect x="245.12" y="291.00" width="15.73" height="15.10" fill="#16848f"/>
<rect x="166.70" y="306.05" width="15.73" height="15.10" fill="#0c1031"/>
<rect x="182.38" y="306.05" width="15.73" height="15.10" fill="#11305f"/>
<rect x="198.07" y="306.05" width="15.73" height="15.10" fill="#168a91"/>
<rect x="213.75" y="306.05" width="15.73" height="15.10" fill="#19a98f"/>
<rect x="229.43" y="306.05" width="15.73" height="15.10" fill="#179d90"/>
<rect x="245.12" y="306.05" width="15.73" height="15.10" fill="#16778c"/>
<rect x="166.70" y="321.10" width="15.73" height="15.10" fill="#0e0a18"/>
<rect x="182.38" y="321.10" width="15.73" height="15.10" fill="#123866"/>
<rect x="198.07" y="321.10" width="15.73" height="15.10" fill="#169691"/>
<rect x="213.75" y="321.10" width="15.73" height="15.10" fill="#18a490"/>
<rect x="229.43" y="321.10" width="15.73" height="15.10" fill="#168a91"/>
<rect x="245.12" y="321.10" width="15.73" height="15.10" fill="#16778c"/>
<rect x="166.70" y="336.15" width="15.73" height="15.10" fill="#0c0b1a"/>
<rect x="182.38" y="336.15" width="15.73" height="15.10" fill="#102757"/>
<rect x="198.07" y="336.15" width="15.73" height="15.10" fill="#167d8e"/>
<rect x="213.75" y="336.15" width="15.73" height="15.10" fill="#18a490"/>
<rect x="229.43" y="336.15" width="15.73" height="15.10" fill="#16848f"/>
<rect x="245.12" y="336.15" width="15.73" height="15.10" fill="#166082"/>
<rect x="166.70" y="351.20" width="15.73" height="15.10" fill="#0c0f2d"/>
<rect x="182.38" y="351.20" width="15.73" height="15.10" fill="#102554"/>
<rect x="198.07" y="351.20" width="15.73" height="15.10" fill="#123866"/>
<rect x="213.75" y="351.20" width="15.73" height="15.10" fill="#167d8e"/>
<rect x="229.43" y="351.20" width="15.73" height="15.10" fill="#16778c"/>
<rect x="245.12" y="351.20" width="15.73" height="15.10" fill="#155077"/>
<rect x="166.70" y="366.25" width="15.73" height="15.10" fill="#0c0d29"/>
<rect x="182.38" y="366.25" width="15.73" height="15.10" fill="#0c0a17"/>
<rect x="198.07" y="366.25" width="15.73" height="15.10" fill="#0c102f"/>
<rect x="213.75" y="366.25" width="15.73" height="15.10" fill="#0c0c23"/>
<rect x="229.43" y="366.25" width="15.73" height="15.10" fill="#110a1a"/>
<rect x="245.12" y="366.25" width="15.73" height="15.10" fill="#0c1030"/>
<line x1="166.70" y1="291.00" x2="166.70" y2="381.30" stroke="rgba(60,55,65,0.24)" stroke-width="0.8"/>
<line x1="166.70" y1="291.00" x2="260.80" y2="291.00" stroke="rgba(60,55,65,0.24)" stroke-width="0.8"/>
<line x1="182.38" y1="291.00" x2="182.38" y2="381.30" stroke="rgba(60,55,65,0.24)" stroke-width="0.8"/>
<line x1="166.70" y1="306.05" x2="260.80" y2="306.05" stroke="rgba(60,55,65,0.24)" stroke-width="0.8"/>
<line x1="198.07" y1="291.00" x2="198.07" y2="381.30" stroke="rgba(60,55,65,0.24)" stroke-width="0.8"/>
<line x1="166.70" y1="321.10" x2="260.80" y2="321.10" stroke="rgba(60,55,65,0.24)" stroke-width="0.8"/>
<line x1="213.75" y1="291.00" x2="213.75" y2="381.30" stroke="rgba(60,55,65,0.24)" stroke-width="0.8"/>
<line x1="166.70" y1="336.15" x2="260.80" y2="336.15" stroke="rgba(60,55,65,0.24)" stroke-width="0.8"/>
<line x1="229.43" y1="291.00" x2="229.43" y2="381.30" stroke="rgba(60,55,65,0.24)" stroke-width="0.8"/>
<line x1="166.70" y1="351.20" x2="260.80" y2="351.20" stroke="rgba(60,55,65,0.24)" stroke-width="0.8"/>
<line x1="245.12" y1="291.00" x2="245.12" y2="381.30" stroke="rgba(60,55,65,0.24)" stroke-width="0.8"/>
<line x1="166.70" y1="366.25" x2="260.80" y2="366.25" stroke="rgba(60,55,65,0.24)" stroke-width="0.8"/>
<line x1="260.80" y1="291.00" x2="260.80" y2="381.30" stroke="rgba(60,55,65,0.24)" stroke-width="0.8"/>
<line x1="166.70" y1="381.30" x2="260.80" y2="381.30" stroke="rgba(60,55,65,0.24)" stroke-width="0.8"/>
<text x="174.54" y="301.30" font-size="7.4" fill="#f4f6fa" stroke="#f4f6fa" stroke-width="0.2" opacity="0.92" text-anchor="middle">.2</text>
<text x="190.22" y="301.30" font-size="7.4" fill="#f4f6fa" stroke="#f4f6fa" stroke-width="0.2" opacity="0.92" text-anchor="middle">14</text>
<text x="205.91" y="301.30" font-size="7.4" fill="#000" stroke="#000" stroke-width="0.2" opacity="0.72" text-anchor="middle">24</text>
<text x="221.59" y="301.30" font-size="7.4" fill="#000" stroke="#000" stroke-width="0.2" opacity="0.72" text-anchor="middle">34</text>
<text x="237.28" y="301.30" font-size="7.4" fill="#000" stroke="#000" stroke-width="0.2" opacity="0.72" text-anchor="middle">31</text>
<text x="252.96" y="301.30" font-size="7.4" fill="#000" stroke="#000" stroke-width="0.2" opacity="0.72" text-anchor="middle">23</text>
<text x="174.54" y="316.35" font-size="7.4" fill="#f4f6fa" stroke="#f4f6fa" stroke-width="0.2" opacity="0.92" text-anchor="middle">1.8</text>
<text x="190.22" y="316.35" font-size="7.4" fill="#f4f6fa" stroke="#f4f6fa" stroke-width="0.2" opacity="0.92" text-anchor="middle">12</text>
<text x="205.91" y="316.35" font-size="7.4" fill="#000" stroke="#000" stroke-width="0.2" opacity="0.72" text-anchor="middle">24</text>
<text x="221.59" y="316.35" font-size="7.4" fill="#000" stroke="#000" stroke-width="0.2" opacity="0.72" text-anchor="middle">29</text>
<text x="237.28" y="316.35" font-size="7.4" fill="#000" stroke="#000" stroke-width="0.2" opacity="0.72" text-anchor="middle">27</text>
<text x="252.96" y="316.35" font-size="7.4" fill="#f4f6fa" stroke="#f4f6fa" stroke-width="0.2" opacity="0.92" text-anchor="middle">21</text>
<text x="174.54" y="331.40" font-size="7.4" fill="#f4f6fa" stroke="#f4f6fa" stroke-width="0.2" opacity="0.92" text-anchor="middle">-1.8</text>
<text x="190.22" y="331.40" font-size="7.4" fill="#f4f6fa" stroke="#f4f6fa" stroke-width="0.2" opacity="0.92" text-anchor="middle">14</text>
<text x="205.91" y="331.40" font-size="7.4" fill="#000" stroke="#000" stroke-width="0.2" opacity="0.72" text-anchor="middle">26</text>
<text x="221.59" y="331.40" font-size="7.4" fill="#000" stroke="#000" stroke-width="0.2" opacity="0.72" text-anchor="middle">28</text>
<text x="237.28" y="331.40" font-size="7.4" fill="#000" stroke="#000" stroke-width="0.2" opacity="0.72" text-anchor="middle">24</text>
<text x="252.96" y="331.40" font-size="7.4" fill="#f4f6fa" stroke="#f4f6fa" stroke-width="0.2" opacity="0.92" text-anchor="middle">21</text>
<text x="174.54" y="346.45" font-size="7.4" fill="#f4f6fa" stroke="#f4f6fa" stroke-width="0.2" opacity="0.92" text-anchor="middle">-.7</text>
<text x="190.22" y="346.45" font-size="7.4" fill="#f4f6fa" stroke="#f4f6fa" stroke-width="0.2" opacity="0.92" text-anchor="middle">9.8</text>
<text x="205.91" y="346.45" font-size="7.4" fill="#000" stroke="#000" stroke-width="0.2" opacity="0.72" text-anchor="middle">22</text>
<text x="221.59" y="346.45" font-size="7.4" fill="#000" stroke="#000" stroke-width="0.2" opacity="0.72" text-anchor="middle">28</text>
<text x="237.28" y="346.45" font-size="7.4" fill="#000" stroke="#000" stroke-width="0.2" opacity="0.72" text-anchor="middle">23</text>
<text x="252.96" y="346.45" font-size="7.4" fill="#f4f6fa" stroke="#f4f6fa" stroke-width="0.2" opacity="0.92" text-anchor="middle">19</text>
<text x="174.54" y="361.50" font-size="7.4" fill="#f4f6fa" stroke="#f4f6fa" stroke-width="0.2" opacity="0.92" text-anchor="middle">1.2</text>
<text x="190.22" y="361.50" font-size="7.4" fill="#f4f6fa" stroke="#f4f6fa" stroke-width="0.2" opacity="0.92" text-anchor="middle">8.9</text>
<text x="205.91" y="361.50" font-size="7.4" fill="#f4f6fa" stroke="#f4f6fa" stroke-width="0.2" opacity="0.92" text-anchor="middle">14</text>
<text x="221.59" y="361.50" font-size="7.4" fill="#000" stroke="#000" stroke-width="0.2" opacity="0.72" text-anchor="middle">22</text>
<text x="237.28" y="361.50" font-size="7.4" fill="#000" stroke="#000" stroke-width="0.2" opacity="0.72" text-anchor="middle">21</text>
<text x="252.96" y="361.50" font-size="7.4" fill="#f4f6fa" stroke="#f4f6fa" stroke-width="0.2" opacity="0.92" text-anchor="middle">17</text>
<text x="174.54" y="376.55" font-size="7.4" fill="#f4f6fa" stroke="#f4f6fa" stroke-width="0.2" opacity="0.92" text-anchor="middle">.6</text>
<text x="190.22" y="376.55" font-size="7.4" fill="#f4f6fa" stroke="#f4f6fa" stroke-width="0.2" opacity="0.92" text-anchor="middle">-.9</text>
<text x="205.91" y="376.55" font-size="7.4" fill="#f4f6fa" stroke="#f4f6fa" stroke-width="0.2" opacity="0.92" text-anchor="middle">1.5</text>
<text x="221.59" y="376.55" font-size="7.4" fill="#f4f6fa" stroke="#f4f6fa" stroke-width="0.2" opacity="0.92" text-anchor="middle">-.1</text>
<text x="237.28" y="376.55" font-size="7.4" fill="#f4f6fa" stroke="#f4f6fa" stroke-width="0.2" opacity="0.92" text-anchor="middle">-2.8</text>
<text x="252.96" y="376.55" font-size="7.4" fill="#f4f6fa" stroke="#f4f6fa" stroke-width="0.2" opacity="0.92" text-anchor="middle">1.6</text>
<rect x="249.80" y="289.00" width="10.5" height="1.1" fill="#c4c8d0"/>
<text x="213.55" y="286.20" font-size="6.912000000000001" fill="#626262" text-anchor="middle" font-weight="normal" textLength="80.50" lengthAdjust="spacingAndGlyphs" stroke="#626262" stroke-width="0.15">ADD Excess Inhibition (%)</text>
<text x="153.50" y="336.35" font-size="8.48" fill="#585858" text-anchor="middle" font-weight="normal" transform="rotate(-90 153.50 336.35)" textLength="76.50" lengthAdjust="spacingAndGlyphs" stroke="#585858" stroke-width="0.15">Chloro-IB-MECA (uM)</text>
<text x="161.70" y="298.52" font-size="6.5" fill="#686868" text-anchor="middle" font-weight="normal" transform="rotate(-90 161.70 298.52)">3.1</text>
<line x1="164.50" y1="298.52" x2="165.90" y2="298.52" stroke="#b0b0b0" stroke-width="0.6"/>
<text x="161.70" y="313.57" font-size="6.5" fill="#686868" text-anchor="middle" font-weight="normal" transform="rotate(-90 161.70 313.57)">1.5</text>
<line x1="164.50" y1="313.57" x2="165.90" y2="313.57" stroke="#b0b0b0" stroke-width="0.6"/>
<text x="161.70" y="328.62" font-size="6.5" fill="#686868" text-anchor="middle" font-weight="normal" transform="rotate(-90 161.70 328.62)">.77</text>
<line x1="164.50" y1="328.62" x2="165.90" y2="328.62" stroke="#b0b0b0" stroke-width="0.6"/>
<text x="161.70" y="343.68" font-size="6.5" fill="#686868" text-anchor="middle" font-weight="normal" transform="rotate(-90 161.70 343.68)">.39</text>
<line x1="164.50" y1="343.68" x2="165.90" y2="343.68" stroke="#b0b0b0" stroke-width="0.6"/>
<text x="161.70" y="358.73" font-size="6.5" fill="#686868" text-anchor="middle" font-weight="normal" transform="rotate(-90 161.70 358.73)">.19</text>
<line x1="164.50" y1="358.73" x2="165.90" y2="358.73" stroke="#b0b0b0" stroke-width="0.6"/>
<text x="161.70" y="373.78" font-size="6.5" fill="#686868" text-anchor="middle" font-weight="normal" transform="rotate(-90 161.70 373.78)">0</text>
<line x1="164.50" y1="373.78" x2="165.90" y2="373.78" stroke="#b0b0b0" stroke-width="0.6"/>
<text x="174.54" y="391.20" font-size="6.5" fill="#686868" text-anchor="middle" font-weight="normal">0</text>
<line x1="174.54" y1="382.10" x2="174.54" y2="383.50" stroke="#b0b0b0" stroke-width="0.6"/>
<text x="190.22" y="391.20" font-size="6.5" fill="#686868" text-anchor="middle" font-weight="normal">1.9</text>
<line x1="190.22" y1="382.10" x2="190.22" y2="383.50" stroke="#b0b0b0" stroke-width="0.6"/>
<text x="205.91" y="391.20" font-size="6.5" fill="#686868" text-anchor="middle" font-weight="normal">3.8</text>
<line x1="205.91" y1="382.10" x2="205.91" y2="383.50" stroke="#b0b0b0" stroke-width="0.6"/>
<text x="221.59" y="391.20" font-size="6.5" fill="#686868" text-anchor="middle" font-weight="normal">7.7</text>
<line x1="221.59" y1="382.10" x2="221.59" y2="383.50" stroke="#b0b0b0" stroke-width="0.6"/>
<text x="237.28" y="391.20" font-size="6.5" fill="#686868" text-anchor="middle" font-weight="normal">15</text>
<line x1="237.28" y1="382.10" x2="237.28" y2="383.50" stroke="#b0b0b0" stroke-width="0.6"/>
<text x="252.96" y="391.20" font-size="6.5" fill="#686868" text-anchor="middle" font-weight="normal">31</text>
<line x1="252.96" y1="382.10" x2="252.96" y2="383.50" stroke="#b0b0b0" stroke-width="0.6"/>
<text x="214.10" y="399.20" font-size="7.844000000000001" fill="#585858" text-anchor="middle" font-weight="normal" textLength="85.80" lengthAdjust="spacingAndGlyphs" stroke="#585858" stroke-width="0.15">Papaverine Hydrochloride</text>
<text x="213.80" y="407.50" font-size="7.844000000000001" fill="#585858" text-anchor="middle" font-weight="normal" textLength="15.50" lengthAdjust="spacingAndGlyphs" stroke="#585858" stroke-width="0.15">(uM)</text>
<text x="268.00" y="313.50" font-size="6.6" fill="#6a6a6a" text-anchor="middle" font-weight="normal" transform="rotate(-90 268.00 313.50)" textLength="27.70" lengthAdjust="spacingAndGlyphs">Chi2=480</text>
<text x="268.20" y="358.80" font-size="6.6" fill="#6a6a6a" text-anchor="middle" font-weight="normal" transform="rotate(-90 268.20 358.80)" textLength="40.00" lengthAdjust="spacingAndGlyphs">Vol=5.37(.05)</text>
<rect x="32.10" y="436.10" width="15.80" height="15.05" fill="#fbe868"/>
<rect x="47.85" y="436.10" width="15.80" height="15.05" fill="#f8bba6"/>
<rect x="63.60" y="436.10" width="15.80" height="15.05" fill="#fac297"/>
<rect x="79.35" y="436.10" width="15.80" height="15.05" fill="#f8bdb3"/>
<rect x="95.10" y="436.10" width="15.80" height="15.05" fill="#f8bba6"/>
<rect x="110.85" y="436.10" width="15.80" height="15.05" fill="#fcdae2"/>
<rect x="32.10" y="451.10" width="15.80" height="15.05" fill="#c7f635"/>
<rect x="47.85" y="451.10" width="15.80" height="15.05" fill="#f9c09a"/>
<rect x="63.60" y="451.10" width="15.80" height="15.05" fill="#fbce89"/>
<rect x="79.35" y="451.10" width="15.80" height="15.05" fill="#fac890"/>
<rect x="95.10" y="451.10" width="15.80" height="15.05" fill="#f8bd9d"/>
<rect x="110.85" y="451.10" width="15.80" height="15.05" fill="#fcdae2"/>
<rect x="32.10" y="466.10" width="15.80" height="15.05" fill="#55ee1e"/>
<rect x="47.85" y="466.10" width="15.80" height="15.05" fill="#fcd186"/>
<rect x="63.60" y="466.10" width="15.80" height="15.05" fill="#fcdf75"/>
<rect x="79.35" y="466.10" width="15.80" height="15.05" fill="#fbcb8d"/>
<rect x="95.10" y="466.10" width="15.80" height="15.05" fill="#fbce89"/>
<rect x="110.85" y="466.10" width="15.80" height="15.05" fill="#fcdae2"/>
<rect x="32.10" y="481.10" width="15.80" height="15.05" fill="#1cb28c"/>
<rect x="47.85" y="481.10" width="15.80" height="15.05" fill="#f4f650"/>
<rect x="63.60" y="481.10" width="15.80" height="15.05" fill="#fcd482"/>
<rect x="79.35" y="481.10" width="15.80" height="15.05" fill="#fcd97b"/>
<rect x="95.10" y="481.10" width="15.80" height="15.05" fill="#fac890"/>
<rect x="110.85" y="481.10" width="15.80" height="15.05" fill="#fcd6de"/>
<rect x="32.10" y="496.10" width="15.80" height="15.05" fill="#169691"/>
<rect x="47.85" y="496.10" width="15.80" height="15.05" fill="#acf230"/>
<rect x="63.60" y="496.10" width="15.80" height="15.05" fill="#93f12b"/>
<rect x="79.35" y="496.10" width="15.80" height="15.05" fill="#f8f555"/>
<rect x="95.10" y="496.10" width="15.80" height="15.05" fill="#fcd482"/>
<rect x="110.85" y="496.10" width="15.80" height="15.05" fill="#fce3ea"/>
<rect x="32.10" y="511.10" width="15.80" height="15.05" fill="#1e0b26"/>
<rect x="47.85" y="511.10" width="15.80" height="15.05" fill="#169691"/>
<rect x="63.60" y="511.10" width="15.80" height="15.05" fill="#19a98f"/>
<rect x="79.35" y="511.10" width="15.80" height="15.05" fill="#24e230"/>
<rect x="95.10" y="511.10" width="15.80" height="15.05" fill="#20c67c"/>
<rect x="110.85" y="511.10" width="15.80" height="15.05" fill="#f8f555"/>
<line x1="32.10" y1="436.10" x2="32.10" y2="526.10" stroke="rgba(60,55,65,0.24)" stroke-width="0.8"/>
<line x1="32.10" y1="436.10" x2="126.60" y2="436.10" stroke="rgba(60,55,65,0.24)" stroke-width="0.8"/>
<line x1="47.85" y1="436.10" x2="47.85" y2="526.10" stroke="rgba(60,55,65,0.24)" stroke-width="0.8"/>
<line x1="32.10" y1="451.10" x2="126.60" y2="451.10" stroke="rgba(60,55,65,0.24)" stroke-width="0.8"/>
<line x1="63.60" y1="436.10" x2="63.60" y2="526.10" stroke="rgba(60,55,65,0.24)" stroke-width="0.8"/>
<line x1="32.10" y1="466.10" x2="126.60" y2="466.10" stroke="rgba(60,55,65,0.24)" stroke-width="0.8"/>
<line x1="79.35" y1="436.10" x2="79.35" y2="526.10" stroke="rgba(60,55,65,0.24)" stroke-width="0.8"/>
<line x1="32.10" y1="481.10" x2="126.60" y2="481.10" stroke="rgba(60,55,65,0.24)" stroke-width="0.8"/>
<line x1="95.10" y1="436.10" x2="95.10" y2="526.10" stroke="rgba(60,55,65,0.24)" stroke-width="0.8"/>
<line x1="32.10" y1="496.10" x2="126.60" y2="496.10" stroke="rgba(60,55,65,0.24)" stroke-width="0.8"/>
<line x1="110.85" y1="436.10" x2="110.85" y2="526.10" stroke="rgba(60,55,65,0.24)" stroke-width="0.8"/>
<line x1="32.10" y1="511.10" x2="126.60" y2="511.10" stroke="rgba(60,55,65,0.24)" stroke-width="0.8"/>
<line x1="126.60" y1="436.10" x2="126.60" y2="526.10" stroke="rgba(60,55,65,0.24)" stroke-width="0.8"/>
<line x1="32.10" y1="526.10" x2="126.60" y2="526.10" stroke="rgba(60,55,65,0.24)" stroke-width="0.8"/>
<text x="39.98" y="446.38" font-size="7.4" fill="#000" stroke="#000" stroke-width="0.2" opacity="0.72" text-anchor="middle">67</text>
<text x="55.73" y="446.38" font-size="7.4" fill="#000" stroke="#000" stroke-width="0.2" opacity="0.72" text-anchor="middle">81</text>
<text x="71.47" y="446.38" font-size="7.4" fill="#000" stroke="#000" stroke-width="0.2" opacity="0.72" text-anchor="middle">77</text>
<text x="87.22" y="446.38" font-size="7.4" fill="#000" stroke="#000" stroke-width="0.2" opacity="0.72" text-anchor="middle">83</text>
<text x="102.97" y="446.38" font-size="7.4" fill="#000" stroke="#000" stroke-width="0.2" opacity="0.72" text-anchor="middle">81</text>
<text x="118.72" y="446.38" font-size="7.4" fill="#000" stroke="#000" stroke-width="0.2" opacity="0.72" text-anchor="middle">92</text>
<text x="39.98" y="461.38" font-size="7.4" fill="#000" stroke="#000" stroke-width="0.2" opacity="0.72" text-anchor="middle">57</text>
<text x="55.73" y="461.38" font-size="7.4" fill="#000" stroke="#000" stroke-width="0.2" opacity="0.72" text-anchor="middle">78</text>
<text x="71.47" y="461.38" font-size="7.4" fill="#000" stroke="#000" stroke-width="0.2" opacity="0.72" text-anchor="middle">73</text>
<text x="87.22" y="461.38" font-size="7.4" fill="#000" stroke="#000" stroke-width="0.2" opacity="0.72" text-anchor="middle">75</text>
<text x="102.97" y="461.38" font-size="7.4" fill="#000" stroke="#000" stroke-width="0.2" opacity="0.72" text-anchor="middle">79</text>
<text x="118.72" y="461.38" font-size="7.4" fill="#000" stroke="#000" stroke-width="0.2" opacity="0.72" text-anchor="middle">92</text>
<text x="39.98" y="476.38" font-size="7.4" fill="#000" stroke="#000" stroke-width="0.2" opacity="0.72" text-anchor="middle">48</text>
<text x="55.73" y="476.38" font-size="7.4" fill="#000" stroke="#000" stroke-width="0.2" opacity="0.72" text-anchor="middle">72</text>
<text x="71.47" y="476.38" font-size="7.4" fill="#000" stroke="#000" stroke-width="0.2" opacity="0.72" text-anchor="middle">69</text>
<text x="87.22" y="476.38" font-size="7.4" fill="#000" stroke="#000" stroke-width="0.2" opacity="0.72" text-anchor="middle">74</text>
<text x="102.97" y="476.38" font-size="7.4" fill="#000" stroke="#000" stroke-width="0.2" opacity="0.72" text-anchor="middle">73</text>
<text x="118.72" y="476.38" font-size="7.4" fill="#000" stroke="#000" stroke-width="0.2" opacity="0.72" text-anchor="middle">92</text>
<text x="39.98" y="491.38" font-size="7.4" fill="#000" stroke="#000" stroke-width="0.2" opacity="0.72" text-anchor="middle">31</text>
<text x="55.73" y="491.38" font-size="7.4" fill="#000" stroke="#000" stroke-width="0.2" opacity="0.72" text-anchor="middle">63</text>
<text x="71.47" y="491.38" font-size="7.4" fill="#000" stroke="#000" stroke-width="0.2" opacity="0.72" text-anchor="middle">71</text>
<text x="87.22" y="491.38" font-size="7.4" fill="#000" stroke="#000" stroke-width="0.2" opacity="0.72" text-anchor="middle">70</text>
<text x="102.97" y="491.38" font-size="7.4" fill="#000" stroke="#000" stroke-width="0.2" opacity="0.72" text-anchor="middle">75</text>
<text x="118.72" y="491.38" font-size="7.4" fill="#000" stroke="#000" stroke-width="0.2" opacity="0.72" text-anchor="middle">91</text>
<text x="39.98" y="506.38" font-size="7.4" fill="#000" stroke="#000" stroke-width="0.2" opacity="0.72" text-anchor="middle">26</text>
<text x="55.73" y="506.38" font-size="7.4" fill="#000" stroke="#000" stroke-width="0.2" opacity="0.72" text-anchor="middle">55</text>
<text x="71.47" y="506.38" font-size="7.4" fill="#000" stroke="#000" stroke-width="0.2" opacity="0.72" text-anchor="middle">53</text>
<text x="87.22" y="506.38" font-size="7.4" fill="#000" stroke="#000" stroke-width="0.2" opacity="0.72" text-anchor="middle">64</text>
<text x="102.97" y="506.38" font-size="7.4" fill="#000" stroke="#000" stroke-width="0.2" opacity="0.72" text-anchor="middle">71</text>
<text x="118.72" y="506.38" font-size="7.4" fill="#000" stroke="#000" stroke-width="0.2" opacity="0.72" text-anchor="middle">94</text>
<text x="39.98" y="521.38" font-size="7.4" fill="#f4f6fa" stroke="#f4f6fa" stroke-width="0.2" opacity="0.92" text-anchor="middle">-6</text>
<text x="55.73" y="521.38" font-size="7.4" fill="#000" stroke="#000" stroke-width="0.2" opacity="0.72" text-anchor="middle">26</text>
<text x="71.47" y="521.38" font-size="7.4" fill="#000" stroke="#000" stroke-width="0.2" opacity="0.72" text-anchor="middle">29</text>
<text x="87.22" y="521.38" font-size="7.4" fill="#f4f6fa" stroke="#f4f6fa" stroke-width="0.2" opacity="0.92" text-anchor="middle">40</text>
<text x="102.97" y="521.38" font-size="7.4" fill="#000" stroke="#000" stroke-width="0.2" opacity="0.72" text-anchor="middle">35</text>
<text x="118.72" y="521.38" font-size="7.4" fill="#000" stroke="#000" stroke-width="0.2" opacity="0.72" text-anchor="middle">64</text>
<rect x="115.60" y="434.10" width="10.5" height="1.1" fill="#c4c8d0"/>
<text x="79.45" y="431.20" font-size="9.288" fill="#626262" text-anchor="middle" font-weight="normal" textLength="39.30" lengthAdjust="spacingAndGlyphs" stroke="#626262" stroke-width="0.15">Inhibition</text>
<text x="19.20" y="481.20" font-size="8.48" fill="#585858" text-anchor="middle" font-weight="normal" transform="rotate(-90 19.20 481.20)" textLength="76.80" lengthAdjust="spacingAndGlyphs" stroke="#585858" stroke-width="0.15">Chloro-IB-MECA (uM)</text>
<text x="27.50" y="443.60" font-size="6.5" fill="#686868" text-anchor="middle" font-weight="normal" transform="rotate(-90 27.50 443.60)">3</text>
<line x1="29.90" y1="443.60" x2="31.30" y2="443.60" stroke="#b0b0b0" stroke-width="0.6"/>
<text x="27.50" y="458.60" font-size="6.5" fill="#686868" text-anchor="middle" font-weight="normal" transform="rotate(-90 27.50 458.60)">1.5</text>
<line x1="29.90" y1="458.60" x2="31.30" y2="458.60" stroke="#b0b0b0" stroke-width="0.6"/>
<text x="27.50" y="473.60" font-size="6.5" fill="#686868" text-anchor="middle" font-weight="normal" transform="rotate(-90 27.50 473.60)">.76</text>
<line x1="29.90" y1="473.60" x2="31.30" y2="473.60" stroke="#b0b0b0" stroke-width="0.6"/>
<text x="27.50" y="488.60" font-size="6.5" fill="#686868" text-anchor="middle" font-weight="normal" transform="rotate(-90 27.50 488.60)">.38</text>
<line x1="29.90" y1="488.60" x2="31.30" y2="488.60" stroke="#b0b0b0" stroke-width="0.6"/>
<text x="27.50" y="503.60" font-size="6.5" fill="#686868" text-anchor="middle" font-weight="normal" transform="rotate(-90 27.50 503.60)">.19</text>
<line x1="29.90" y1="503.60" x2="31.30" y2="503.60" stroke="#b0b0b0" stroke-width="0.6"/>
<text x="27.50" y="518.60" font-size="6.5" fill="#686868" text-anchor="middle" font-weight="normal" transform="rotate(-90 27.50 518.60)">0</text>
<line x1="29.90" y1="518.60" x2="31.30" y2="518.60" stroke="#b0b0b0" stroke-width="0.6"/>
<text x="39.98" y="535.70" font-size="6.5" fill="#686868" text-anchor="middle" font-weight="normal">0</text>
<line x1="39.98" y1="526.90" x2="39.98" y2="528.30" stroke="#b0b0b0" stroke-width="0.6"/>
<text x="55.73" y="535.70" font-size="6.5" fill="#686868" text-anchor="middle" font-weight="normal">1.3</text>
<line x1="55.73" y1="526.90" x2="55.73" y2="528.30" stroke="#b0b0b0" stroke-width="0.6"/>
<text x="71.47" y="535.70" font-size="6.5" fill="#686868" text-anchor="middle" font-weight="normal">2.5</text>
<line x1="71.47" y1="526.90" x2="71.47" y2="528.30" stroke="#b0b0b0" stroke-width="0.6"/>
<text x="87.22" y="535.70" font-size="6.5" fill="#686868" text-anchor="middle" font-weight="normal">5.1</text>
<line x1="87.22" y1="526.90" x2="87.22" y2="528.30" stroke="#b0b0b0" stroke-width="0.6"/>
<text x="102.97" y="535.70" font-size="6.5" fill="#686868" text-anchor="middle" font-weight="normal">10</text>
<line x1="102.97" y1="526.90" x2="102.97" y2="528.30" stroke="#b0b0b0" stroke-width="0.6"/>
<text x="118.72" y="535.70" font-size="6.5" fill="#686868" text-anchor="middle" font-weight="normal">20</text>
<line x1="118.72" y1="526.90" x2="118.72" y2="528.30" stroke="#b0b0b0" stroke-width="0.6"/>
<text x="79.40" y="543.80" font-size="7.844000000000001" fill="#585858" text-anchor="middle" font-weight="normal" textLength="85.70" lengthAdjust="spacingAndGlyphs" stroke="#585858" stroke-width="0.15">Papaverine Hydrochloride</text>
<text x="79.40" y="552.20" font-size="7.844000000000001" fill="#585858" text-anchor="middle" font-weight="normal" textLength="15.50" lengthAdjust="spacingAndGlyphs" stroke="#585858" stroke-width="0.15">(uM)</text>
<rect x="165.80" y="436.20" width="15.68" height="15.03" fill="#0e173e"/>
<rect x="181.43" y="436.20" width="15.68" height="15.03" fill="#15587d"/>
<rect x="197.07" y="436.20" width="15.68" height="15.03" fill="#123866"/>
<rect x="212.70" y="436.20" width="15.68" height="15.03" fill="#166082"/>
<rect x="228.33" y="436.20" width="15.68" height="15.03" fill="#155077"/>
<rect x="243.97" y="436.20" width="15.68" height="15.03" fill="#18a490"/>
<rect x="165.80" y="451.18" width="15.68" height="15.03" fill="#0c0a16"/>
<rect x="181.43" y="451.18" width="15.68" height="15.03" fill="#166082"/>
<rect x="197.07" y="451.18" width="15.68" height="15.03" fill="#123866"/>
<rect x="212.70" y="451.18" width="15.68" height="15.03" fill="#13406c"/>
<rect x="228.33" y="451.18" width="15.68" height="15.03" fill="#15587d"/>
<rect x="243.97" y="451.18" width="15.68" height="15.03" fill="#1aae8e"/>
<rect x="165.80" y="466.17" width="15.68" height="15.03" fill="#0c0a16"/>
<rect x="181.43" y="466.17" width="15.68" height="15.03" fill="#16778c"/>
<rect x="197.07" y="466.17" width="15.68" height="15.03" fill="#155077"/>
<rect x="212.70" y="466.17" width="15.68" height="15.03" fill="#166c87"/>
<rect x="228.33" y="466.17" width="15.68" height="15.03" fill="#155077"/>
<rect x="243.97" y="466.17" width="15.68" height="15.03" fill="#1db78b"/>
<rect x="165.80" y="481.15" width="15.68" height="15.03" fill="#180a1e"/>
<rect x="181.43" y="481.15" width="15.68" height="15.03" fill="#16778c"/>
<rect x="197.07" y="481.15" width="15.68" height="15.03" fill="#179d90"/>
<rect x="212.70" y="481.15" width="15.68" height="15.03" fill="#167d8e"/>
<rect x="228.33" y="481.15" width="15.68" height="15.03" fill="#16778c"/>
<rect x="243.97" y="481.15" width="15.68" height="15.03" fill="#1db78b"/>
<rect x="165.80" y="496.13" width="15.68" height="15.03" fill="#0e173e"/>
<rect x="181.43" y="496.13" width="15.68" height="15.03" fill="#16848f"/>
<rect x="197.07" y="496.13" width="15.68" height="15.03" fill="#123866"/>
<rect x="212.70" y="496.13" width="15.68" height="15.03" fill="#166082"/>
<rect x="228.33" y="496.13" width="15.68" height="15.03" fill="#166082"/>
<rect x="243.97" y="496.13" width="15.68" height="15.03" fill="#23d06e"/>
<rect x="165.80" y="511.12" width="15.68" height="15.03" fill="#1e0b26"/>
<rect x="181.43" y="511.12" width="15.68" height="15.03" fill="#0e1a44"/>
<rect x="197.07" y="511.12" width="15.68" height="15.03" fill="#0c0a16"/>
<rect x="212.70" y="511.12" width="15.68" height="15.03" fill="#0c0c24"/>
<rect x="228.33" y="511.12" width="15.68" height="15.03" fill="#4b145f"/>
<rect x="243.97" y="511.12" width="15.68" height="15.03" fill="#0f204c"/>
<line x1="165.80" y1="436.20" x2="165.80" y2="526.10" stroke="rgba(60,55,65,0.24)" stroke-width="0.8"/>
<line x1="165.80" y1="436.20" x2="259.60" y2="436.20" stroke="rgba(60,55,65,0.24)" stroke-width="0.8"/>
<line x1="181.43" y1="436.20" x2="181.43" y2="526.10" stroke="rgba(60,55,65,0.24)" stroke-width="0.8"/>
<line x1="165.80" y1="451.18" x2="259.60" y2="451.18" stroke="rgba(60,55,65,0.24)" stroke-width="0.8"/>
<line x1="197.07" y1="436.20" x2="197.07" y2="526.10" stroke="rgba(60,55,65,0.24)" stroke-width="0.8"/>
<line x1="165.80" y1="466.17" x2="259.60" y2="466.17" stroke="rgba(60,55,65,0.24)" stroke-width="0.8"/>
<line x1="212.70" y1="436.20" x2="212.70" y2="526.10" stroke="rgba(60,55,65,0.24)" stroke-width="0.8"/>
<line x1="165.80" y1="481.15" x2="259.60" y2="481.15" stroke="rgba(60,55,65,0.24)" stroke-width="0.8"/>
<line x1="228.33" y1="436.20" x2="228.33" y2="526.10" stroke="rgba(60,55,65,0.24)" stroke-width="0.8"/>
<line x1="165.80" y1="496.13" x2="259.60" y2="496.13" stroke="rgba(60,55,65,0.24)" stroke-width="0.8"/>
<line x1="243.97" y1="436.20" x2="243.97" y2="526.10" stroke="rgba(60,55,65,0.24)" stroke-width="0.8"/>
<line x1="165.80" y1="511.12" x2="259.60" y2="511.12" stroke="rgba(60,55,65,0.24)" stroke-width="0.8"/>
<line x1="259.60" y1="436.20" x2="259.60" y2="526.10" stroke="rgba(60,55,65,0.24)" stroke-width="0.8"/>
<line x1="165.80" y1="526.10" x2="259.60" y2="526.10" stroke="rgba(60,55,65,0.24)" stroke-width="0.8"/>
<text x="173.62" y="446.47" font-size="7.4" fill="#f4f6fa" stroke="#f4f6fa" stroke-width="0.2" opacity="0.92" text-anchor="middle">4</text>
<text x="189.25" y="446.47" font-size="7.4" fill="#f4f6fa" stroke="#f4f6fa" stroke-width="0.2" opacity="0.92" text-anchor="middle">18</text>
<text x="204.88" y="446.47" font-size="7.4" fill="#f4f6fa" stroke="#f4f6fa" stroke-width="0.2" opacity="0.92" text-anchor="middle">14</text>
<text x="220.52" y="446.47" font-size="7.4" fill="#f4f6fa" stroke="#f4f6fa" stroke-width="0.2" opacity="0.92" text-anchor="middle">19</text>
<text x="236.15" y="446.47" font-size="7.4" fill="#f4f6fa" stroke="#f4f6fa" stroke-width="0.2" opacity="0.92" text-anchor="middle">17</text>
<text x="251.78" y="446.47" font-size="7.4" fill="#000" stroke="#000" stroke-width="0.2" opacity="0.72" text-anchor="middle">28</text>
<text x="173.62" y="461.45" font-size="7.4" fill="#f4f6fa" stroke="#f4f6fa" stroke-width="0.2" opacity="0.92" text-anchor="middle">-1</text>
<text x="189.25" y="461.45" font-size="7.4" fill="#f4f6fa" stroke="#f4f6fa" stroke-width="0.2" opacity="0.92" text-anchor="middle">19</text>
<text x="204.88" y="461.45" font-size="7.4" fill="#f4f6fa" stroke="#f4f6fa" stroke-width="0.2" opacity="0.92" text-anchor="middle">14</text>
<text x="220.52" y="461.45" font-size="7.4" fill="#f4f6fa" stroke="#f4f6fa" stroke-width="0.2" opacity="0.92" text-anchor="middle">15</text>
<text x="236.15" y="461.45" font-size="7.4" fill="#f4f6fa" stroke="#f4f6fa" stroke-width="0.2" opacity="0.92" text-anchor="middle">18</text>
<text x="251.78" y="461.45" font-size="7.4" fill="#000" stroke="#000" stroke-width="0.2" opacity="0.72" text-anchor="middle">30</text>
<text x="173.62" y="476.43" font-size="7.4" fill="#f4f6fa" stroke="#f4f6fa" stroke-width="0.2" opacity="0.92" text-anchor="middle">-1</text>
<text x="189.25" y="476.43" font-size="7.4" fill="#000" stroke="#000" stroke-width="0.2" opacity="0.72" text-anchor="middle">21</text>
<text x="204.88" y="476.43" font-size="7.4" fill="#f4f6fa" stroke="#f4f6fa" stroke-width="0.2" opacity="0.92" text-anchor="middle">17</text>
<text x="220.52" y="476.43" font-size="7.4" fill="#f4f6fa" stroke="#f4f6fa" stroke-width="0.2" opacity="0.92" text-anchor="middle">20</text>
<text x="236.15" y="476.43" font-size="7.4" fill="#f4f6fa" stroke="#f4f6fa" stroke-width="0.2" opacity="0.92" text-anchor="middle">17</text>
<text x="251.78" y="476.43" font-size="7.4" fill="#000" stroke="#000" stroke-width="0.2" opacity="0.72" text-anchor="middle">32</text>
<text x="173.62" y="491.42" font-size="7.4" fill="#f4f6fa" stroke="#f4f6fa" stroke-width="0.2" opacity="0.92" text-anchor="middle">-5</text>
<text x="189.25" y="491.42" font-size="7.4" fill="#000" stroke="#000" stroke-width="0.2" opacity="0.72" text-anchor="middle">21</text>
<text x="204.88" y="491.42" font-size="7.4" fill="#000" stroke="#000" stroke-width="0.2" opacity="0.72" text-anchor="middle">27</text>
<text x="220.52" y="491.42" font-size="7.4" fill="#000" stroke="#000" stroke-width="0.2" opacity="0.72" text-anchor="middle">22</text>
<text x="236.15" y="491.42" font-size="7.4" fill="#f4f6fa" stroke="#f4f6fa" stroke-width="0.2" opacity="0.92" text-anchor="middle">21</text>
<text x="251.78" y="491.42" font-size="7.4" fill="#000" stroke="#000" stroke-width="0.2" opacity="0.72" text-anchor="middle">32</text>
<text x="173.62" y="506.40" font-size="7.4" fill="#f4f6fa" stroke="#f4f6fa" stroke-width="0.2" opacity="0.92" text-anchor="middle">4</text>
<text x="189.25" y="506.40" font-size="7.4" fill="#000" stroke="#000" stroke-width="0.2" opacity="0.72" text-anchor="middle">23</text>
<text x="204.88" y="506.40" font-size="7.4" fill="#f4f6fa" stroke="#f4f6fa" stroke-width="0.2" opacity="0.92" text-anchor="middle">14</text>
<text x="220.52" y="506.40" font-size="7.4" fill="#f4f6fa" stroke="#f4f6fa" stroke-width="0.2" opacity="0.92" text-anchor="middle">19</text>
<text x="236.15" y="506.40" font-size="7.4" fill="#f4f6fa" stroke="#f4f6fa" stroke-width="0.2" opacity="0.92" text-anchor="middle">19</text>
<text x="251.78" y="506.40" font-size="7.4" fill="#000" stroke="#000" stroke-width="0.2" opacity="0.72" text-anchor="middle">37</text>
<text x="173.62" y="521.38" font-size="7.4" fill="#f4f6fa" stroke="#f4f6fa" stroke-width="0.2" opacity="0.92" text-anchor="middle">-6</text>
<text x="189.25" y="521.38" font-size="7.4" fill="#f4f6fa" stroke="#f4f6fa" stroke-width="0.2" opacity="0.92" text-anchor="middle">5</text>
<text x="204.88" y="521.38" font-size="7.4" fill="#f4f6fa" stroke="#f4f6fa" stroke-width="0.2" opacity="0.92" text-anchor="middle">-1</text>
<text x="220.52" y="521.38" font-size="7.4" fill="#f4f6fa" stroke="#f4f6fa" stroke-width="0.2" opacity="0.92" text-anchor="middle">0</text>
<text x="236.15" y="521.38" font-size="7.4" fill="#f4f6fa" stroke="#f4f6fa" stroke-width="0.2" opacity="0.92" text-anchor="middle">-15</text>
<text x="251.78" y="521.38" font-size="7.4" fill="#f4f6fa" stroke="#f4f6fa" stroke-width="0.2" opacity="0.92" text-anchor="middle">7</text>
<rect x="248.60" y="434.20" width="10.5" height="1.1" fill="#c4c8d0"/>
<text x="211.85" y="431.20" font-size="8.208" fill="#626262" text-anchor="middle" font-weight="normal" textLength="81.30" lengthAdjust="spacingAndGlyphs" stroke="#626262" stroke-width="0.15">ADD Excess Inhibition</text>
<text x="152.20" y="481.50" font-size="8.48" fill="#585858" text-anchor="middle" font-weight="normal" transform="rotate(-90 152.20 481.50)" textLength="76.80" lengthAdjust="spacingAndGlyphs" stroke="#585858" stroke-width="0.15">Chloro-IB-MECA (uM)</text>
<text x="160.50" y="443.69" font-size="6.5" fill="#686868" text-anchor="middle" font-weight="normal" transform="rotate(-90 160.50 443.69)">3</text>
<line x1="163.60" y1="443.69" x2="165.00" y2="443.69" stroke="#b0b0b0" stroke-width="0.6"/>
<text x="160.50" y="458.68" font-size="6.5" fill="#686868" text-anchor="middle" font-weight="normal" transform="rotate(-90 160.50 458.68)">1.5</text>
<line x1="163.60" y1="458.68" x2="165.00" y2="458.68" stroke="#b0b0b0" stroke-width="0.6"/>
<text x="160.50" y="473.66" font-size="6.5" fill="#686868" text-anchor="middle" font-weight="normal" transform="rotate(-90 160.50 473.66)">.76</text>
<line x1="163.60" y1="473.66" x2="165.00" y2="473.66" stroke="#b0b0b0" stroke-width="0.6"/>
<text x="160.50" y="488.64" font-size="6.5" fill="#686868" text-anchor="middle" font-weight="normal" transform="rotate(-90 160.50 488.64)">.38</text>
<line x1="163.60" y1="488.64" x2="165.00" y2="488.64" stroke="#b0b0b0" stroke-width="0.6"/>
<text x="160.50" y="503.62" font-size="6.5" fill="#686868" text-anchor="middle" font-weight="normal" transform="rotate(-90 160.50 503.62)">.19</text>
<line x1="163.60" y1="503.62" x2="165.00" y2="503.62" stroke="#b0b0b0" stroke-width="0.6"/>
<text x="160.50" y="518.61" font-size="6.5" fill="#686868" text-anchor="middle" font-weight="normal" transform="rotate(-90 160.50 518.61)">0</text>
<line x1="163.60" y1="518.61" x2="165.00" y2="518.61" stroke="#b0b0b0" stroke-width="0.6"/>
<text x="173.62" y="535.70" font-size="6.5" fill="#686868" text-anchor="middle" font-weight="normal">0</text>
<line x1="173.62" y1="526.90" x2="173.62" y2="528.30" stroke="#b0b0b0" stroke-width="0.6"/>
<text x="189.25" y="535.70" font-size="6.5" fill="#686868" text-anchor="middle" font-weight="normal">1.3</text>
<line x1="189.25" y1="526.90" x2="189.25" y2="528.30" stroke="#b0b0b0" stroke-width="0.6"/>
<text x="204.88" y="535.70" font-size="6.5" fill="#686868" text-anchor="middle" font-weight="normal">2.5</text>
<line x1="204.88" y1="526.90" x2="204.88" y2="528.30" stroke="#b0b0b0" stroke-width="0.6"/>
<text x="220.52" y="535.70" font-size="6.5" fill="#686868" text-anchor="middle" font-weight="normal">5.1</text>
<line x1="220.52" y1="526.90" x2="220.52" y2="528.30" stroke="#b0b0b0" stroke-width="0.6"/>
<text x="236.15" y="535.70" font-size="6.5" fill="#686868" text-anchor="middle" font-weight="normal">10</text>
<line x1="236.15" y1="526.90" x2="236.15" y2="528.30" stroke="#b0b0b0" stroke-width="0.6"/>
<text x="251.78" y="535.70" font-size="6.5" fill="#686868" text-anchor="middle" font-weight="normal">20</text>
<line x1="251.78" y1="526.90" x2="251.78" y2="528.30" stroke="#b0b0b0" stroke-width="0.6"/>
<text x="212.70" y="543.60" font-size="7.844000000000001" fill="#585858" text-anchor="middle" font-weight="normal" textLength="85.80" lengthAdjust="spacingAndGlyphs" stroke="#585858" stroke-width="0.15">Papaverine Hydrochloride</text>
<text x="212.70" y="551.80" font-size="7.844000000000001" fill="#585858" text-anchor="middle" font-weight="normal" textLength="15.50" lengthAdjust="spacingAndGlyphs" stroke="#585858" stroke-width="0.15">(uM)</text>
<text x="266.40" y="457.90" font-size="6.6" fill="#6a6a6a" text-anchor="middle" font-weight="normal" transform="rotate(-90 266.40 457.90)" textLength="27.80" lengthAdjust="spacingAndGlyphs">Chi2=180</text>
<text x="266.60" y="504.80" font-size="6.6" fill="#6a6a6a" text-anchor="middle" font-weight="normal" transform="rotate(-90 266.60 504.80)" textLength="39.60" lengthAdjust="spacingAndGlyphs">Vol=5.37(.18)</text>
<line x1="170.40" y1="114.50" x2="244.50" y2="114.50" stroke="#bfbfbf" stroke-width="0.8"/>
<text x="165.90" y="116.90" font-size="6.9" fill="#6a6a6a" text-anchor="end" font-weight="normal">0</text>
<line x1="170.40" y1="95.35" x2="244.50" y2="95.35" stroke="#d9d9d9" stroke-width="0.8"/>
<text x="165.90" y="97.75" font-size="6.9" fill="#6a6a6a" text-anchor="end" font-weight="normal">20</text>
<line x1="170.40" y1="76.20" x2="244.50" y2="76.20" stroke="#d9d9d9" stroke-width="0.8"/>
<text x="165.90" y="78.60" font-size="6.9" fill="#6a6a6a" text-anchor="end" font-weight="normal">40</text>
<line x1="170.40" y1="57.05" x2="244.50" y2="57.05" stroke="#d9d9d9" stroke-width="0.8"/>
<text x="165.90" y="59.45" font-size="6.9" fill="#6a6a6a" text-anchor="end" font-weight="normal">60</text>
<line x1="170.40" y1="37.90" x2="244.50" y2="37.90" stroke="#d9d9d9" stroke-width="0.8"/>
<text x="165.90" y="40.30" font-size="6.9" fill="#6a6a6a" text-anchor="end" font-weight="normal">80</text>
<line x1="170.40" y1="18.75" x2="244.50" y2="18.75" stroke="#d9d9d9" stroke-width="0.8"/>
<text x="165.90" y="21.15" font-size="6.9" fill="#6a6a6a" text-anchor="end" font-weight="normal">100</text>
<line x1="172.40" y1="18.75" x2="172.40" y2="114.50" stroke="#c4c4c4" stroke-width="0.8"/>
<rect x="175.70" y="101.09" width="17.40" height="13.41" fill="#ffff00"/>
<rect x="200.50" y="87.69" width="16.50" height="26.81" fill="#e6b8b7"/>
<rect x="224.00" y="48.43" width="17.50" height="66.07" fill="#000"/>
<text x="185.00" y="124.70" font-size="5.4" fill="#1a1a1a" text-anchor="middle" font-weight="bold" textLength="18.80" lengthAdjust="spacingAndGlyphs">0.39uM</text>
<text x="185.00" y="131.70" font-size="5.4" fill="#1a1a1a" text-anchor="middle" font-weight="bold" textLength="11.50" lengthAdjust="spacingAndGlyphs">C-I-B</text>
<text x="210.30" y="124.70" font-size="5.4" fill="#1a1a1a" text-anchor="middle" font-weight="bold" textLength="21.40" lengthAdjust="spacingAndGlyphs">0.013uM</text>
<text x="210.30" y="131.70" font-size="5.4" fill="#1a1a1a" text-anchor="middle" font-weight="bold" textLength="8.50" lengthAdjust="spacingAndGlyphs">Dex</text>
<text x="234.70" y="124.70" font-size="5.4" fill="#1a1a1a" text-anchor="middle" font-weight="bold" textLength="16.80" lengthAdjust="spacingAndGlyphs">combo</text>
<text x="153.90" y="66.90" font-size="9.5" fill="#1a1a1a" text-anchor="middle" font-weight="normal" transform="rotate(-90 153.90 66.90)" textLength="50.70" lengthAdjust="spacingAndGlyphs" stroke="#1a1a1a" stroke-width="0.18">% inhibition</text>
<line x1="168.00" y1="241.20" x2="241.00" y2="241.20" stroke="#bfbfbf" stroke-width="0.8"/>
<text x="163.50" y="243.60" font-size="6.9" fill="#6a6a6a" text-anchor="end" font-weight="normal">0</text>
<line x1="168.00" y1="222.31" x2="241.00" y2="222.31" stroke="#d9d9d9" stroke-width="0.8"/>
<text x="163.50" y="224.71" font-size="6.9" fill="#6a6a6a" text-anchor="end" font-weight="normal">20</text>
<line x1="168.00" y1="203.42" x2="241.00" y2="203.42" stroke="#d9d9d9" stroke-width="0.8"/>
<text x="163.50" y="205.82" font-size="6.9" fill="#6a6a6a" text-anchor="end" font-weight="normal">40</text>
<line x1="168.00" y1="184.53" x2="241.00" y2="184.53" stroke="#d9d9d9" stroke-width="0.8"/>
<text x="163.50" y="186.93" font-size="6.9" fill="#6a6a6a" text-anchor="end" font-weight="normal">60</text>
<line x1="168.00" y1="165.64" x2="241.00" y2="165.64" stroke="#d9d9d9" stroke-width="0.8"/>
<text x="163.50" y="168.04" font-size="6.9" fill="#6a6a6a" text-anchor="end" font-weight="normal">80</text>
<line x1="168.00" y1="146.75" x2="241.00" y2="146.75" stroke="#d9d9d9" stroke-width="0.8"/>
<text x="163.50" y="149.15" font-size="6.9" fill="#6a6a6a" text-anchor="end" font-weight="normal">100</text>
<line x1="170.00" y1="146.75" x2="170.00" y2="241.20" stroke="#c4c4c4" stroke-width="0.8"/>
<rect x="173.00" y="210.03" width="18.25" height="31.17" fill="#ffff00"/>
<rect x="197.50" y="211.92" width="16.50" height="29.28" fill="#e6b8b7"/>
<rect x="221.00" y="176.03" width="17.00" height="65.17" fill="#000"/>
<text x="183.00" y="249.70" font-size="5.4" fill="#1a1a1a" text-anchor="middle" font-weight="bold" textLength="13.70" lengthAdjust="spacingAndGlyphs">10uM</text>
<text x="182.00" y="256.70" font-size="5.4" fill="#1a1a1a" text-anchor="middle" font-weight="bold" textLength="15.00" lengthAdjust="spacingAndGlyphs">Papav</text>
<text x="206.10" y="249.70" font-size="5.4" fill="#1a1a1a" text-anchor="middle" font-weight="bold" textLength="21.80" lengthAdjust="spacingAndGlyphs">0.013uM</text>
<text x="206.60" y="256.70" font-size="5.4" fill="#1a1a1a" text-anchor="middle" font-weight="bold" textLength="8.50" lengthAdjust="spacingAndGlyphs">Dex</text>
<text x="230.50" y="249.70" font-size="5.4" fill="#1a1a1a" text-anchor="middle" font-weight="bold" textLength="16.70" lengthAdjust="spacingAndGlyphs">combo</text>
<text x="152.80" y="195.10" font-size="9.5" fill="#1a1a1a" text-anchor="middle" font-weight="normal" transform="rotate(-90 152.80 195.10)" textLength="50.00" lengthAdjust="spacingAndGlyphs" stroke="#1a1a1a" stroke-width="0.18">% inhibition</text>
<rect x="302.70" y="293.50" width="88.70" height="87.70" fill="#fff" stroke="#9a9a9a" stroke-width="0.9"/>
<line x1="309.60" y1="381.20" x2="309.60" y2="383.80" stroke="#9a9a9a" stroke-width="0.7"/>
<line x1="309.60" y1="293.50" x2="309.60" y2="290.90" stroke="#9a9a9a" stroke-width="0.7"/>
<line x1="302.70" y1="373.50" x2="299.30" y2="373.50" stroke="#9a9a9a" stroke-width="0.7"/>
<line x1="391.40" y1="373.50" x2="393.40" y2="373.50" stroke="#9a9a9a" stroke-width="0.7"/>
<line x1="317.02" y1="381.20" x2="317.02" y2="383.80" stroke="#9a9a9a" stroke-width="0.7"/>
<line x1="317.02" y1="293.50" x2="317.02" y2="290.90" stroke="#9a9a9a" stroke-width="0.7"/>
<line x1="302.70" y1="366.27" x2="299.30" y2="366.27" stroke="#9a9a9a" stroke-width="0.7"/>
<line x1="391.40" y1="366.27" x2="393.40" y2="366.27" stroke="#9a9a9a" stroke-width="0.7"/>
<line x1="324.44" y1="381.20" x2="324.44" y2="383.80" stroke="#9a9a9a" stroke-width="0.7"/>
<line x1="324.44" y1="293.50" x2="324.44" y2="290.90" stroke="#9a9a9a" stroke-width="0.7"/>
<line x1="302.70" y1="359.04" x2="299.30" y2="359.04" stroke="#9a9a9a" stroke-width="0.7"/>
<line x1="391.40" y1="359.04" x2="393.40" y2="359.04" stroke="#9a9a9a" stroke-width="0.7"/>
<line x1="331.86" y1="381.20" x2="331.86" y2="383.80" stroke="#9a9a9a" stroke-width="0.7"/>
<line x1="331.86" y1="293.50" x2="331.86" y2="290.90" stroke="#9a9a9a" stroke-width="0.7"/>
<line x1="302.70" y1="351.81" x2="299.30" y2="351.81" stroke="#9a9a9a" stroke-width="0.7"/>
<line x1="391.40" y1="351.81" x2="393.40" y2="351.81" stroke="#9a9a9a" stroke-width="0.7"/>
<line x1="339.28" y1="381.20" x2="339.28" y2="383.80" stroke="#9a9a9a" stroke-width="0.7"/>
<line x1="339.28" y1="293.50" x2="339.28" y2="290.90" stroke="#9a9a9a" stroke-width="0.7"/>
<line x1="302.70" y1="344.58" x2="299.30" y2="344.58" stroke="#9a9a9a" stroke-width="0.7"/>
<line x1="391.40" y1="344.58" x2="393.40" y2="344.58" stroke="#9a9a9a" stroke-width="0.7"/>
<line x1="346.70" y1="381.20" x2="346.70" y2="383.80" stroke="#9a9a9a" stroke-width="0.7"/>
<line x1="346.70" y1="293.50" x2="346.70" y2="290.90" stroke="#9a9a9a" stroke-width="0.7"/>
<line x1="302.70" y1="337.35" x2="299.30" y2="337.35" stroke="#9a9a9a" stroke-width="0.7"/>
<line x1="391.40" y1="337.35" x2="393.40" y2="337.35" stroke="#9a9a9a" stroke-width="0.7"/>
<line x1="354.12" y1="381.20" x2="354.12" y2="383.80" stroke="#9a9a9a" stroke-width="0.7"/>
<line x1="354.12" y1="293.50" x2="354.12" y2="290.90" stroke="#9a9a9a" stroke-width="0.7"/>
<line x1="302.70" y1="330.12" x2="299.30" y2="330.12" stroke="#9a9a9a" stroke-width="0.7"/>
<line x1="391.40" y1="330.12" x2="393.40" y2="330.12" stroke="#9a9a9a" stroke-width="0.7"/>
<line x1="361.54" y1="381.20" x2="361.54" y2="383.80" stroke="#9a9a9a" stroke-width="0.7"/>
<line x1="361.54" y1="293.50" x2="361.54" y2="290.90" stroke="#9a9a9a" stroke-width="0.7"/>
<line x1="302.70" y1="322.89" x2="299.30" y2="322.89" stroke="#9a9a9a" stroke-width="0.7"/>
<line x1="391.40" y1="322.89" x2="393.40" y2="322.89" stroke="#9a9a9a" stroke-width="0.7"/>
<line x1="368.96" y1="381.20" x2="368.96" y2="383.80" stroke="#9a9a9a" stroke-width="0.7"/>
<line x1="368.96" y1="293.50" x2="368.96" y2="290.90" stroke="#9a9a9a" stroke-width="0.7"/>
<line x1="302.70" y1="315.66" x2="299.30" y2="315.66" stroke="#9a9a9a" stroke-width="0.7"/>
<line x1="391.40" y1="315.66" x2="393.40" y2="315.66" stroke="#9a9a9a" stroke-width="0.7"/>
<line x1="376.38" y1="381.20" x2="376.38" y2="383.80" stroke="#9a9a9a" stroke-width="0.7"/>
<line x1="376.38" y1="293.50" x2="376.38" y2="290.90" stroke="#9a9a9a" stroke-width="0.7"/>
<line x1="302.70" y1="308.43" x2="299.30" y2="308.43" stroke="#9a9a9a" stroke-width="0.7"/>
<line x1="391.40" y1="308.43" x2="393.40" y2="308.43" stroke="#9a9a9a" stroke-width="0.7"/>
<line x1="383.80" y1="381.20" x2="383.80" y2="383.80" stroke="#9a9a9a" stroke-width="0.7"/>
<line x1="383.80" y1="293.50" x2="383.80" y2="290.90" stroke="#9a9a9a" stroke-width="0.7"/>
<line x1="302.70" y1="301.20" x2="299.30" y2="301.20" stroke="#9a9a9a" stroke-width="0.7"/>
<line x1="391.40" y1="301.20" x2="393.40" y2="301.20" stroke="#9a9a9a" stroke-width="0.7"/>
<line x1="309.60" y1="373.50" x2="383.80" y2="373.50" stroke="#d4d4d4" stroke-width="0.9"/>
<line x1="309.60" y1="373.50" x2="309.60" y2="301.20" stroke="#c8c8e4" stroke-width="0.9"/>
<line x1="309.60" y1="301.20" x2="383.80" y2="373.50" stroke="#c86060" stroke-width="0.8"/>
<polyline points="309.60,301.20 319.25,339.16 327.78,353.47 329.78,356.29 341.80,365.11 345.88,366.56 382.69,373.28 383.80,373.86" fill="none" stroke="#5050e0" stroke-width="0.8"/>
<circle cx="309.60" cy="301.20" r="1.0" fill="#1a1a80"/>
<circle cx="319.25" cy="339.16" r="1.0" fill="#1a1a80"/>
<circle cx="327.78" cy="353.47" r="1.0" fill="#1a1a80"/>
<circle cx="329.78" cy="356.29" r="1.0" fill="#1a1a80"/>
<circle cx="341.80" cy="365.11" r="1.0" fill="#1a1a80"/>
<circle cx="345.88" cy="366.56" r="1.0" fill="#1a1a80"/>
<circle cx="382.69" cy="373.28" r="1.0" fill="#1a1a80"/>
<circle cx="383.80" cy="373.86" r="1.0" fill="#1a1a80"/>
<text x="309.60" y="391.60" font-size="7.4" fill="#111" text-anchor="middle" font-weight="normal">0</text>
<text x="296.80" y="373.50" font-size="7.4" fill="#111" text-anchor="middle" font-weight="normal" transform="rotate(-90 296.80 373.50)">0</text>
<text x="346.70" y="391.60" font-size="7.4" fill="#111" text-anchor="middle" font-weight="normal">.5</text>
<text x="296.80" y="337.35" font-size="7.4" fill="#111" text-anchor="middle" font-weight="normal" transform="rotate(-90 296.80 337.35)">.5</text>
<text x="383.80" y="391.60" font-size="7.4" fill="#111" text-anchor="middle" font-weight="normal">1</text>
<text x="296.80" y="301.20" font-size="7.4" fill="#111" text-anchor="middle" font-weight="normal" transform="rotate(-90 296.80 301.20)">1</text>
<text x="347.00" y="286.30" font-size="10.0" fill="#151515" text-anchor="middle" font-weight="normal" textLength="55.60" lengthAdjust="spacingAndGlyphs" stroke="#151515" stroke-width="0.15">Isobologram</text>
<text x="286.60" y="335.50" font-size="7.4" fill="#111" text-anchor="middle" font-weight="normal" transform="rotate(-90 286.60 335.50)" textLength="79.70" lengthAdjust="spacingAndGlyphs">Chloro-IB-MECA / 1.6uM</text>
<text x="347.60" y="400.00" font-size="7.4" fill="#111" text-anchor="middle" font-weight="normal" textLength="36.80" lengthAdjust="spacingAndGlyphs">Papaverine</text>
<text x="347.60" y="408.30" font-size="7.4" fill="#111" text-anchor="middle" font-weight="normal" textLength="71.30" lengthAdjust="spacingAndGlyphs">Hydrochloride / 7.9uM</text>
<text x="400.60" y="305.60" font-size="5.9" fill="#e04040" text-anchor="middle" font-weight="normal" transform="rotate(-90 400.60 305.60)" textLength="26.00" lengthAdjust="spacingAndGlyphs" stroke="#e04040" stroke-width="0.15">Additivity</text>
<text x="400.80" y="356.50" font-size="5.9" fill="#4040d0" text-anchor="middle" font-weight="normal" transform="rotate(-90 400.80 356.50)" textLength="46.50" lengthAdjust="spacingAndGlyphs" stroke="#4040d0" stroke-width="0.15">Inhibition (%)=50</text>
<rect x="382.40" y="288.90" width="8" height="1.0" fill="#c8c8d0"/>
<rect x="301.50" y="438.40" width="88.90" height="87.80" fill="#fff" stroke="#9a9a9a" stroke-width="0.9"/>
<line x1="308.40" y1="526.20" x2="308.40" y2="528.80" stroke="#9a9a9a" stroke-width="0.7"/>
<line x1="308.40" y1="438.40" x2="308.40" y2="435.80" stroke="#9a9a9a" stroke-width="0.7"/>
<line x1="301.50" y1="518.70" x2="298.10" y2="518.70" stroke="#9a9a9a" stroke-width="0.7"/>
<line x1="390.40" y1="518.70" x2="392.40" y2="518.70" stroke="#9a9a9a" stroke-width="0.7"/>
<line x1="315.88" y1="526.20" x2="315.88" y2="528.80" stroke="#9a9a9a" stroke-width="0.7"/>
<line x1="315.88" y1="438.40" x2="315.88" y2="435.80" stroke="#9a9a9a" stroke-width="0.7"/>
<line x1="301.50" y1="511.44" x2="298.10" y2="511.44" stroke="#9a9a9a" stroke-width="0.7"/>
<line x1="390.40" y1="511.44" x2="392.40" y2="511.44" stroke="#9a9a9a" stroke-width="0.7"/>
<line x1="323.36" y1="526.20" x2="323.36" y2="528.80" stroke="#9a9a9a" stroke-width="0.7"/>
<line x1="323.36" y1="438.40" x2="323.36" y2="435.80" stroke="#9a9a9a" stroke-width="0.7"/>
<line x1="301.50" y1="504.18" x2="298.10" y2="504.18" stroke="#9a9a9a" stroke-width="0.7"/>
<line x1="390.40" y1="504.18" x2="392.40" y2="504.18" stroke="#9a9a9a" stroke-width="0.7"/>
<line x1="330.84" y1="526.20" x2="330.84" y2="528.80" stroke="#9a9a9a" stroke-width="0.7"/>
<line x1="330.84" y1="438.40" x2="330.84" y2="435.80" stroke="#9a9a9a" stroke-width="0.7"/>
<line x1="301.50" y1="496.92" x2="298.10" y2="496.92" stroke="#9a9a9a" stroke-width="0.7"/>
<line x1="390.40" y1="496.92" x2="392.40" y2="496.92" stroke="#9a9a9a" stroke-width="0.7"/>
<line x1="338.32" y1="526.20" x2="338.32" y2="528.80" stroke="#9a9a9a" stroke-width="0.7"/>
<line x1="338.32" y1="438.40" x2="338.32" y2="435.80" stroke="#9a9a9a" stroke-width="0.7"/>
<line x1="301.50" y1="489.66" x2="298.10" y2="489.66" stroke="#9a9a9a" stroke-width="0.7"/>
<line x1="390.40" y1="489.66" x2="392.40" y2="489.66" stroke="#9a9a9a" stroke-width="0.7"/>
<line x1="345.80" y1="526.20" x2="345.80" y2="528.80" stroke="#9a9a9a" stroke-width="0.7"/>
<line x1="345.80" y1="438.40" x2="345.80" y2="435.80" stroke="#9a9a9a" stroke-width="0.7"/>
<line x1="301.50" y1="482.40" x2="298.10" y2="482.40" stroke="#9a9a9a" stroke-width="0.7"/>
<line x1="390.40" y1="482.40" x2="392.40" y2="482.40" stroke="#9a9a9a" stroke-width="0.7"/>
<line x1="353.28" y1="526.20" x2="353.28" y2="528.80" stroke="#9a9a9a" stroke-width="0.7"/>
<line x1="353.28" y1="438.40" x2="353.28" y2="435.80" stroke="#9a9a9a" stroke-width="0.7"/>
<line x1="301.50" y1="475.14" x2="298.10" y2="475.14" stroke="#9a9a9a" stroke-width="0.7"/>
<line x1="390.40" y1="475.14" x2="392.40" y2="475.14" stroke="#9a9a9a" stroke-width="0.7"/>
<line x1="360.76" y1="526.20" x2="360.76" y2="528.80" stroke="#9a9a9a" stroke-width="0.7"/>
<line x1="360.76" y1="438.40" x2="360.76" y2="435.80" stroke="#9a9a9a" stroke-width="0.7"/>
<line x1="301.50" y1="467.88" x2="298.10" y2="467.88" stroke="#9a9a9a" stroke-width="0.7"/>
<line x1="390.40" y1="467.88" x2="392.40" y2="467.88" stroke="#9a9a9a" stroke-width="0.7"/>
<line x1="368.24" y1="526.20" x2="368.24" y2="528.80" stroke="#9a9a9a" stroke-width="0.7"/>
<line x1="368.24" y1="438.40" x2="368.24" y2="435.80" stroke="#9a9a9a" stroke-width="0.7"/>
<line x1="301.50" y1="460.62" x2="298.10" y2="460.62" stroke="#9a9a9a" stroke-width="0.7"/>
<line x1="390.40" y1="460.62" x2="392.40" y2="460.62" stroke="#9a9a9a" stroke-width="0.7"/>
<line x1="375.72" y1="526.20" x2="375.72" y2="528.80" stroke="#9a9a9a" stroke-width="0.7"/>
<line x1="375.72" y1="438.40" x2="375.72" y2="435.80" stroke="#9a9a9a" stroke-width="0.7"/>
<line x1="301.50" y1="453.36" x2="298.10" y2="453.36" stroke="#9a9a9a" stroke-width="0.7"/>
<line x1="390.40" y1="453.36" x2="392.40" y2="453.36" stroke="#9a9a9a" stroke-width="0.7"/>
<line x1="383.20" y1="526.20" x2="383.20" y2="528.80" stroke="#9a9a9a" stroke-width="0.7"/>
<line x1="383.20" y1="438.40" x2="383.20" y2="435.80" stroke="#9a9a9a" stroke-width="0.7"/>
<line x1="301.50" y1="446.10" x2="298.10" y2="446.10" stroke="#9a9a9a" stroke-width="0.7"/>
<line x1="390.40" y1="446.10" x2="392.40" y2="446.10" stroke="#9a9a9a" stroke-width="0.7"/>
<line x1="308.40" y1="518.70" x2="383.20" y2="518.70" stroke="#d4d4d4" stroke-width="0.9"/>
<line x1="308.40" y1="518.70" x2="308.40" y2="446.10" stroke="#c8c8e4" stroke-width="0.9"/>
<line x1="308.40" y1="446.10" x2="383.20" y2="518.70" stroke="#c86060" stroke-width="0.8"/>
<polyline points="308.40,446.10 310.05,472.96 312.21,495.69 313.64,507.23 319.55,505.78 321.56,507.23 330.62,511.88 352.91,512.67 383.20,518.70" fill="none" stroke="#5050e0" stroke-width="0.8"/>
<circle cx="308.40" cy="446.10" r="1.0" fill="#1a1a80"/>
<circle cx="310.05" cy="472.96" r="1.0" fill="#1a1a80"/>
<circle cx="312.21" cy="495.69" r="1.0" fill="#1a1a80"/>
<circle cx="313.64" cy="507.23" r="1.0" fill="#1a1a80"/>
<circle cx="319.55" cy="505.78" r="1.0" fill="#1a1a80"/>
<circle cx="321.56" cy="507.23" r="1.0" fill="#1a1a80"/>
<circle cx="330.62" cy="511.88" r="1.0" fill="#1a1a80"/>
<circle cx="352.91" cy="512.67" r="1.0" fill="#1a1a80"/>
<circle cx="383.20" cy="518.70" r="1.0" fill="#1a1a80"/>
<text x="308.40" y="536.20" font-size="7.4" fill="#111" text-anchor="middle" font-weight="normal">0</text>
<text x="295.60" y="518.70" font-size="7.4" fill="#111" text-anchor="middle" font-weight="normal" transform="rotate(-90 295.60 518.70)">0</text>
<text x="345.80" y="536.20" font-size="7.4" fill="#111" text-anchor="middle" font-weight="normal">.5</text>
<text x="295.60" y="482.40" font-size="7.4" fill="#111" text-anchor="middle" font-weight="normal" transform="rotate(-90 295.60 482.40)">.5</text>
<text x="383.20" y="536.20" font-size="7.4" fill="#111" text-anchor="middle" font-weight="normal">1</text>
<text x="295.60" y="446.10" font-size="7.4" fill="#111" text-anchor="middle" font-weight="normal" transform="rotate(-90 295.60 446.10)">1</text>
<text x="345.60" y="430.90" font-size="10.0" fill="#151515" text-anchor="middle" font-weight="normal" textLength="55.40" lengthAdjust="spacingAndGlyphs" stroke="#151515" stroke-width="0.15">Isobologram</text>
<text x="286.00" y="481.90" font-size="7.4" fill="#111" text-anchor="middle" font-weight="normal" transform="rotate(-90 286.00 481.90)" textLength="75.80" lengthAdjust="spacingAndGlyphs">Chloro-IB-MECA / 1.2uM</text>
<text x="347.00" y="544.90" font-size="7.4" fill="#111" text-anchor="middle" font-weight="normal" textLength="34.50" lengthAdjust="spacingAndGlyphs">Papaverine</text>
<text x="346.00" y="553.00" font-size="7.4" fill="#111" text-anchor="middle" font-weight="normal" textLength="69.20" lengthAdjust="spacingAndGlyphs">Hydrochloride / 17uM</text>
<text x="400.30" y="451.80" font-size="5.9" fill="#e04040" text-anchor="middle" font-weight="normal" transform="rotate(-90 400.30 451.80)" textLength="24.60" lengthAdjust="spacingAndGlyphs" stroke="#e04040" stroke-width="0.15">Additivity</text>
<text x="398.20" y="511.00" font-size="3.4" fill="#4848d0" text-anchor="middle" font-weight="normal" transform="rotate(-90 398.20 511.00)" textLength="29.30" lengthAdjust="spacingAndGlyphs">Inhibition=51.8</text>
<text x="401.70" y="522.70" font-size="3.4" fill="#4848d0" text-anchor="middle" font-weight="normal" transform="rotate(-90 401.70 522.70)">%</text>
<rect x="381.40" y="433.80" width="8" height="1.0" fill="#c8c8d0"/>
</svg>
</body></html>
